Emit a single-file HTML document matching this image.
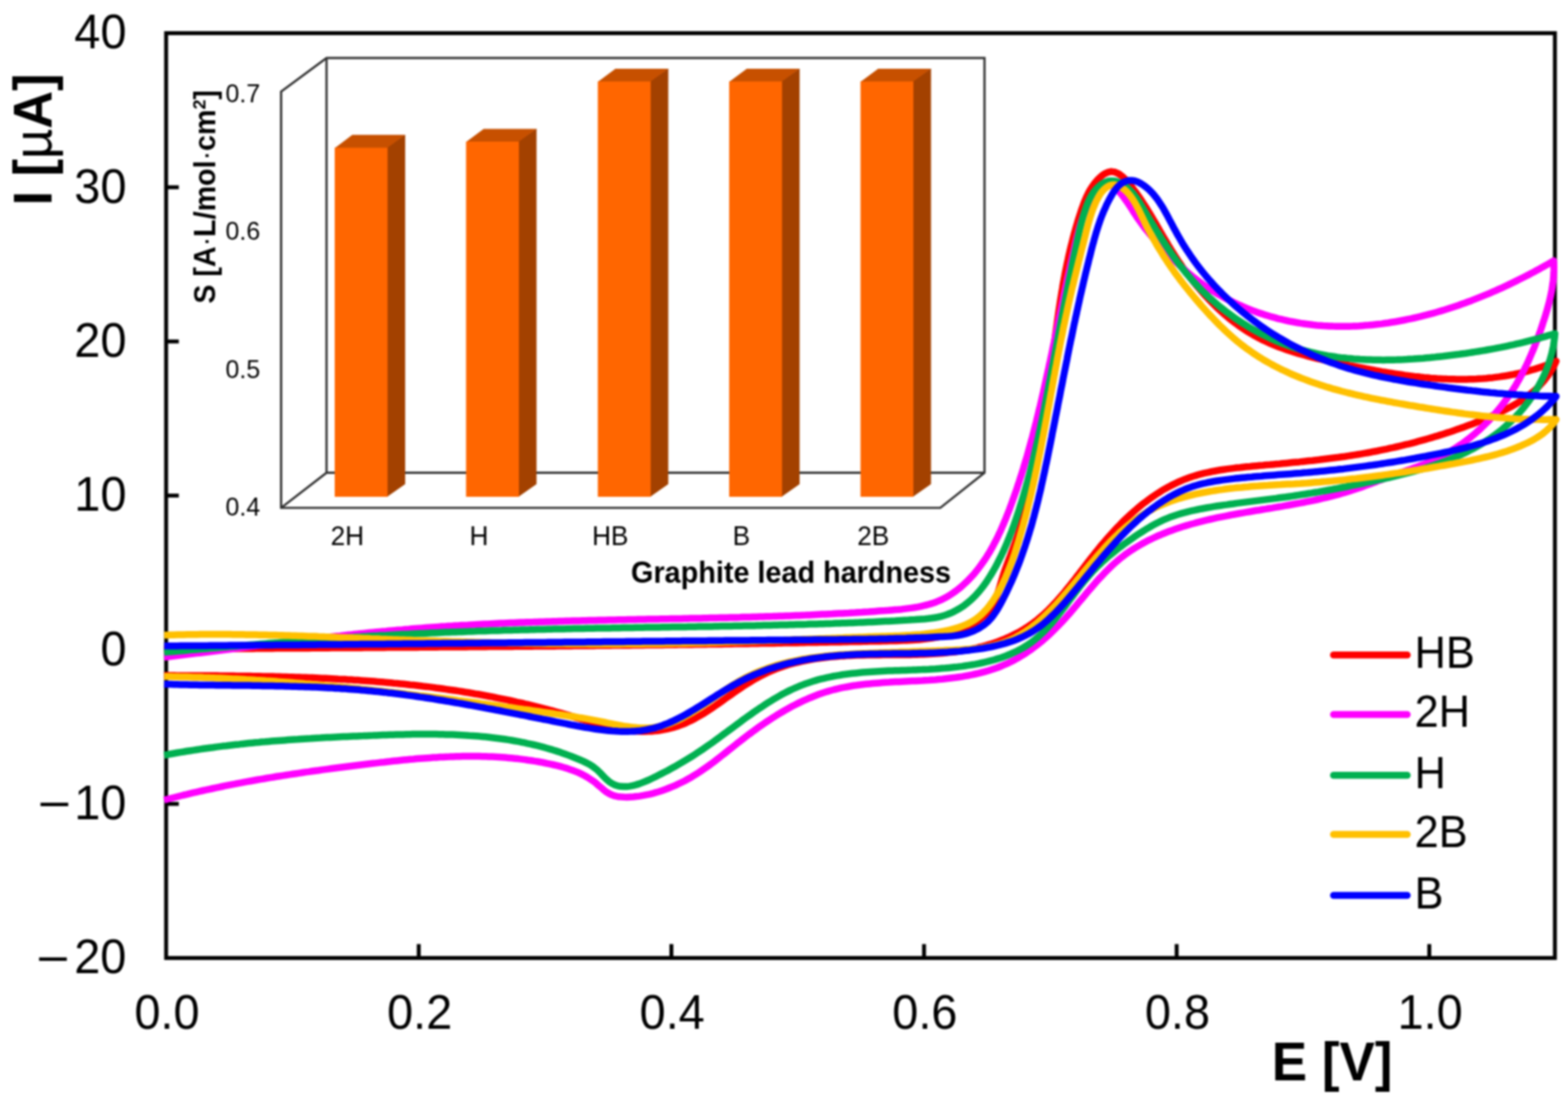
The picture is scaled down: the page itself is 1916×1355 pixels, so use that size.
<!DOCTYPE html>
<html lang="en"><head><meta charset="utf-8"><title>Cyclic voltammograms</title>
<style>
html,body{margin:0;padding:0;background:#fff;}
body{width:1916px;height:1355px;overflow:hidden;}
svg{display:block;filter:blur(0.8px);}/*BLUR*/
text{font-family:"Liberation Sans",Arial,Helvetica,sans-serif;fill:#000;}
</style></head><body>
<svg width="1916" height="1355" viewBox="0 0 1916 1355">
<rect x="0" y="0" width="1916" height="1355" fill="#fff"/>

<g stroke="#000" stroke-width="4.8" fill="none">
<rect x="203" y="40.5" width="1697" height="1130.0"/>
<line x1="203" y1="228.8" x2="218.5" y2="228.8"/>
<line x1="203" y1="417.2" x2="218.5" y2="417.2"/>
<line x1="203" y1="605.5" x2="218.5" y2="605.5"/>
<line x1="203" y1="793.8" x2="218.5" y2="793.8"/>
<line x1="203" y1="982.2" x2="218.5" y2="982.2"/>
<line x1="511.7" y1="1170.5" x2="511.7" y2="1153.5"/>
<line x1="820.4" y1="1170.5" x2="820.4" y2="1153.5"/>
<line x1="1129.1" y1="1170.5" x2="1129.1" y2="1153.5"/>
<line x1="1437.8" y1="1170.5" x2="1437.8" y2="1153.5"/>
<line x1="1746.5" y1="1170.5" x2="1746.5" y2="1153.5"/>
</g>
<text transform="translate(154.5 59.4) scale(1.0 1.04)" font-size="57.3" text-anchor="end">40</text>
<text transform="translate(154.5 247.7) scale(1.0 1.04)" font-size="57.3" text-anchor="end">30</text>
<text transform="translate(154.5 436.1) scale(1.0 1.04)" font-size="57.3" text-anchor="end">20</text>
<text transform="translate(154.5 624.4) scale(1.0 1.04)" font-size="57.3" text-anchor="end">10</text>
<text transform="translate(154.5 812.7) scale(1.0 1.04)" font-size="57.3" text-anchor="end">0</text>
<text transform="translate(0 1001.1) scale(1 1.04)" font-size="57.3"><tspan x="49.4" dy="-1.6" font-size="61">–</tspan><tspan x="154.5" dy="1.6" text-anchor="end">10</tspan></text>
<text transform="translate(0 1189.4) scale(1 1.04)" font-size="57.3"><tspan x="47.8" dy="-1.6" font-size="61">–</tspan><tspan x="154.5" dy="1.6" text-anchor="end">20</tspan></text>
<text transform="translate(204.0 1256.5) scale(1.0 1.04)" font-size="57.3" text-anchor="middle">0.0</text>
<text transform="translate(512.7 1256.5) scale(1.0 1.04)" font-size="57.3" text-anchor="middle">0.2</text>
<text transform="translate(821.4 1256.5) scale(1.0 1.04)" font-size="57.3" text-anchor="middle">0.4</text>
<text transform="translate(1130.1 1256.5) scale(1.0 1.04)" font-size="57.3" text-anchor="middle">0.6</text>
<text transform="translate(1438.8 1256.5) scale(1.0 1.04)" font-size="57.3" text-anchor="middle">0.8</text>
<text transform="translate(1747.5 1256.5) scale(1.0 1.04)" font-size="57.3" text-anchor="middle">1.0</text>
<text transform="translate(1554 1319.5) scale(1.012 1.04)" font-size="64" font-weight="bold">E [V]</text>
<text transform="translate(63 251) rotate(-90) scale(1.0 1.04)" font-size="64" font-weight="bold">I [<tspan font-weight="normal">µ</tspan>A]</text>
<g stroke="#303030" stroke-width="2.7" fill="none" stroke-linejoin="miter">
<path d="M343.5 620.5 L343.5 112 L399 70.8 L1203 70.8 L1203 577.6 L1149 620.5 Z"/>
<path d="M399 70.8 L399 577.6 L1203 577.6 M399 577.6 L343.5 620.5"/>
</g>
<path d="M473.0 180.4 L495.1 164.8 L495.1 591.4 L473.0 607 Z" fill="#a34100"/>
<path d="M409 181.0 L430.5 164.8 L495.1 164.8 L473.6 181.0 Z" fill="#c75000"/>
<path d="M473.6 180.4 L495.1 164.8 L495.1 166.0 L473.6 181.6 Z" fill="#a34100"/>
<path d="M409 180.4 L473.6 180.4 L473.6 607 L409 607 Z" fill="#ff6600"/>
<path d="M633.5 173 L655.6 157.4 L655.6 591.4 L633.5 607 Z" fill="#a34100"/>
<path d="M569.5 173.6 L591.0 157.4 L655.6 157.4 L634.1 173.6 Z" fill="#c75000"/>
<path d="M634.1 173 L655.6 157.4 L655.6 158.6 L634.1 174.2 Z" fill="#a34100"/>
<path d="M569.5 173 L634.1 173 L634.1 607 L569.5 607 Z" fill="#ff6600"/>
<path d="M794.5 99.5 L816.6 83.9 L816.6 591.4 L794.5 607 Z" fill="#a34100"/>
<path d="M730.5 100.1 L752.0 83.9 L816.6 83.9 L795.1 100.1 Z" fill="#c75000"/>
<path d="M795.1 99.5 L816.6 83.9 L816.6 85.10000000000001 L795.1 100.7 Z" fill="#a34100"/>
<path d="M730.5 99.5 L795.1 99.5 L795.1 607 L730.5 607 Z" fill="#ff6600"/>
<path d="M955.0 99.5 L977.1 83.9 L977.1 591.4 L955.0 607 Z" fill="#a34100"/>
<path d="M891 100.1 L912.5 83.9 L977.1 83.9 L955.6 100.1 Z" fill="#c75000"/>
<path d="M955.6 99.5 L977.1 83.9 L977.1 85.10000000000001 L955.6 100.7 Z" fill="#a34100"/>
<path d="M891 99.5 L955.6 99.5 L955.6 607 L891 607 Z" fill="#ff6600"/>
<path d="M1115.5 99.5 L1137.6 83.9 L1137.6 591.4 L1115.5 607 Z" fill="#a34100"/>
<path d="M1051.5 100.1 L1073.0 83.9 L1137.6 83.9 L1116.1 100.1 Z" fill="#c75000"/>
<path d="M1116.1 99.5 L1137.6 83.9 L1137.6 85.10000000000001 L1116.1 100.7 Z" fill="#a34100"/>
<path d="M1051.5 99.5 L1116.1 99.5 L1116.1 607 L1051.5 607 Z" fill="#ff6600"/>
<text transform="translate(275.5 124.5) scale(1.0 1.04)" font-size="30.5" fill="#111">0.7</text>
<text transform="translate(275.5 293) scale(1.0 1.04)" font-size="30.5" fill="#111">0.6</text>
<text transform="translate(275.5 461.5) scale(1.0 1.04)" font-size="30.5" fill="#111">0.5</text>
<text transform="translate(275.5 630) scale(1.0 1.04)" font-size="30.5" fill="#111">0.4</text>
<text transform="translate(424.5 666) scale(1.0 1.04)" font-size="32" text-anchor="middle" fill="#111">2H</text>
<text transform="translate(585.4 666) scale(1.0 1.04)" font-size="32" text-anchor="middle" fill="#111">H</text>
<text transform="translate(745.6 666) scale(1.0 1.04)" font-size="32" text-anchor="middle" fill="#111">HB</text>
<text transform="translate(906 666) scale(1.0 1.04)" font-size="32" text-anchor="middle" fill="#111">B</text>
<text transform="translate(1067 666) scale(1.0 1.04)" font-size="32" text-anchor="middle" fill="#111">2B</text>
<text transform="translate(771 711.5) scale(1.0 1.04)" font-size="35.2" font-weight="bold" fill="#111">Graphite lead hardness</text>
<text transform="translate(262.5 371) rotate(-90) scale(1.0 1.04)" font-size="35" font-weight="bold" fill="#111">S [A<tspan font-weight="normal">·</tspan>L/mol<tspan font-weight="normal">·</tspan>cm<tspan font-size="22" dy="-11">2</tspan><tspan dy="11">]</tspan></text>
<g fill="none" stroke-linejoin="round" stroke-linecap="butt" stroke-width="8.5">
<path d="M200.6 793.2L204.6 793.2L208.6 793.1L212.7 793.1L216.7 793.1L220.7 793.0L224.7 793.0L228.8 793.0L232.8 792.9L236.8 792.9L240.8 792.9L244.9 792.8L248.9 792.8L252.9 792.8L256.9 792.8L260.9 792.7L265.0 792.7L269.0 792.7L273.0 792.6L277.0 792.6L281.0 792.6L285.0 792.5L289.1 792.5L293.1 792.5L297.1 792.4L301.1 792.4L305.1 792.4L309.1 792.4L313.1 792.3L317.2 792.3L321.2 792.3L325.2 792.2L329.2 792.2L333.2 792.2L337.2 792.1L341.2 792.1L345.2 792.1L349.2 792.1L353.3 792.0L357.3 792.0L361.3 792.0L365.3 791.9L369.3 791.9L373.3 791.9L377.3 791.9L381.3 791.8L385.3 791.8L389.3 791.8L393.3 791.7L397.3 791.7L401.3 791.7L405.3 791.6L409.4 791.6L413.4 791.6L417.4 791.6L421.4 791.5L425.4 791.5L429.4 791.5L433.4 791.4L437.4 791.4L441.4 791.4L445.4 791.3L449.4 791.3L453.4 791.3L457.4 791.3L461.4 791.2L465.4 791.2L469.4 791.2L473.4 791.1L477.4 791.1L481.4 791.1L485.4 791.0L489.4 791.0L493.4 791.0L497.4 791.0L501.4 790.9L505.4 790.9L509.4 790.9L513.4 790.8L517.4 790.8L521.4 790.8L525.4 790.7L529.4 790.7L533.4 790.7L537.4 790.6L541.4 790.6L545.4 790.6L549.4 790.5L553.4 790.5L557.4 790.5L561.4 790.4L565.4 790.4L569.4 790.4L573.4 790.3L577.4 790.3L581.4 790.3L585.4 790.2L589.4 790.2L593.4 790.2L597.4 790.1L601.4 790.1L605.4 790.1L609.4 790.0L613.4 790.0L617.4 790.0L621.4 789.9L625.4 789.9L629.4 789.8L633.4 789.8L637.4 789.8L641.4 789.7L645.4 789.7L649.4 789.7L653.4 789.6L657.4 789.6L661.4 789.5L665.4 789.5L669.4 789.5L673.4 789.4L677.4 789.4L681.4 789.3L685.4 789.3L689.4 789.3L693.4 789.2L697.4 789.2L701.4 789.1L705.4 789.1L709.4 789.1L713.4 789.0L717.4 789.0L721.4 788.9L725.4 788.9L729.4 788.8L733.4 788.8L737.4 788.7L741.4 788.7L745.4 788.7L749.4 788.6L753.4 788.6L757.4 788.5L761.4 788.5L765.4 788.4L769.4 788.4L773.5 788.3L777.5 788.3L781.5 788.2L785.5 788.2L789.5 788.1L793.5 788.1L797.5 788.0L801.5 788.0L805.5 787.9L809.5 787.9L813.5 787.8L817.5 787.8L821.5 787.7L825.6 787.7L829.6 787.6L833.6 787.6L837.6 787.5L841.6 787.5L845.6 787.4L849.6 787.3L853.6 787.3L857.7 787.2L861.7 787.2L865.7 787.1L869.7 787.1L873.7 787.0L877.7 786.9L881.7 786.9L885.8 786.8L889.8 786.8L893.8 786.7L897.8 786.6L901.8 786.6L905.9 786.5L909.9 786.4L913.9 786.4L917.9 786.3L921.9 786.3L926.0 786.2L930.0 786.1L934.0 786.1L938.0 786.0L942.0 785.9L946.1 785.9L950.1 785.8L954.1 785.7L958.2 785.6L962.2 785.6L966.2 785.5L970.2 785.4L974.3 785.4L978.3 785.3L982.3 785.2L986.4 785.1L990.4 785.1L994.4 785.0L998.4 784.9L1002.5 784.8L1006.5 784.8L1010.5 784.7L1014.6 784.6L1018.6 784.5L1022.7 784.5L1026.7 784.4L1030.7 784.3L1034.8 784.2L1038.8 784.1L1042.8 784.0L1046.9 784.0L1050.9 783.9L1055.0 783.8L1059.0 783.7L1063.1 783.6L1067.1 783.5L1071.1 783.4L1075.2 783.4L1079.2 783.3L1083.3 783.2L1087.3 783.1L1091.4 783.0L1095.4 782.9L1099.5 782.8L1103.5 782.6L1107.5 782.5L1111.5 782.3L1115.5 782.0L1119.5 781.7L1123.5 781.4L1127.5 781.0L1131.4 780.6L1135.3 780.1L1139.3 779.5L1143.1 778.9L1147.0 778.2L1150.8 777.4L1154.6 776.5L1158.4 775.5L1162.1 774.4L1165.8 773.2L1169.5 771.9L1173.1 770.5L1176.7 768.9L1180.2 767.2L1183.7 765.4L1187.2 763.5L1190.6 761.4L1194.0 759.2L1197.2 756.8L1200.3 754.3L1203.3 751.6L1206.0 748.7L1208.6 745.6L1210.8 742.4L1212.9 739.0L1214.7 735.5L1216.4 731.9L1217.9 728.1L1219.3 724.3L1220.6 720.4L1221.8 716.5L1223.0 712.5L1224.2 708.5L1225.4 704.6L1226.6 700.7L1227.9 696.8L1229.3 693.0L1230.7 689.2L1232.1 685.4L1233.6 681.7L1235.0 678.0L1236.4 674.2L1237.8 670.5L1239.2 666.8L1240.6 663.0L1241.9 659.2L1243.2 655.5L1244.4 651.7L1245.7 647.9L1246.9 644.1L1248.1 640.3L1249.2 636.5L1250.3 632.7L1251.5 628.8L1252.5 625.0L1253.6 621.1L1254.7 617.3L1255.7 613.4L1256.7 609.6L1257.6 605.7L1258.6 601.8L1259.5 597.9L1260.4 594.0L1261.3 590.1L1262.2 586.2L1263.1 582.3L1263.9 578.4L1264.7 574.5L1265.5 570.6L1266.3 566.6L1267.1 562.7L1267.9 558.7L1268.6 554.8L1269.3 550.9L1270.0 546.9L1270.7 542.9L1271.4 539.0L1272.1 535.0L1272.8 531.1L1273.4 527.1L1274.1 523.1L1274.7 519.2L1275.3 515.2L1275.9 511.2L1276.5 507.2L1277.1 503.2L1277.7 499.3L1278.3 495.3L1278.8 491.3L1279.4 487.3L1279.9 483.3L1280.5 479.3L1281.0 475.3L1281.6 471.4L1282.1 467.4L1282.6 463.4L1283.2 459.4L1283.7 455.4L1284.2 451.4L1284.7 447.4L1285.3 443.5L1285.8 439.5L1286.3 435.5L1286.8 431.5L1287.3 427.5L1287.8 423.6L1288.4 419.6L1288.9 415.6L1289.4 411.7L1289.9 407.7L1290.5 403.7L1291.0 399.8L1291.6 395.8L1292.1 391.9L1292.7 387.9L1293.2 384.0L1293.8 380.0L1294.4 376.1L1295.0 372.1L1295.6 368.2L1296.2 364.3L1296.9 360.3L1297.5 356.4L1298.2 352.5L1298.8 348.5L1299.5 344.6L1300.3 340.7L1301.0 336.8L1301.7 332.8L1302.5 328.9L1303.3 325.0L1304.1 321.1L1305.0 317.2L1305.8 313.3L1306.7 309.4L1307.6 305.5L1308.5 301.6L1309.5 297.7L1310.5 293.8L1311.5 289.9L1312.5 286.0L1313.6 282.1L1314.7 278.2L1315.9 274.3L1317.0 270.4L1318.2 266.6L1319.5 262.7L1320.7 258.8L1322.0 254.9L1323.4 251.1L1324.8 247.2L1326.4 243.5L1328.0 239.8L1329.8 236.1L1331.7 232.6L1333.8 229.2L1336.1 225.8L1338.5 222.7L1341.2 219.6L1344.1 216.8L1347.3 214.1L1350.7 211.8L1354.2 210.3L1357.8 209.6L1361.5 210.1L1365.2 211.4L1368.7 213.5L1372.0 216.1L1375.1 219.0L1378.0 222.2L1380.7 225.5L1383.3 228.9L1385.8 232.2L1388.2 235.4L1390.5 238.7L1392.8 242.0L1395.0 245.2L1397.1 248.5L1399.3 251.8L1401.4 255.1L1403.4 258.5L1405.5 261.8L1407.5 265.2L1409.5 268.6L1411.5 272.0L1413.5 275.4L1415.5 278.8L1417.4 282.2L1419.4 285.7L1421.4 289.1L1423.4 292.5L1425.5 295.9L1427.5 299.4L1429.6 302.8L1431.7 306.2L1433.8 309.6L1436.0 313.0L1438.2 316.3L1440.4 319.7L1442.7 323.0L1445.0 326.4L1447.4 329.7L1449.7 332.9L1452.2 336.2L1454.6 339.4L1457.1 342.6L1459.6 345.8L1462.2 348.9L1464.8 352.0L1467.4 355.1L1470.1 358.2L1472.8 361.2L1475.6 364.1L1478.3 367.1L1481.2 370.0L1484.0 372.8L1486.9 375.6L1489.8 378.4L1492.8 381.1L1495.8 383.7L1498.8 386.3L1501.9 388.9L1505.0 391.4L1508.2 393.8L1511.4 396.2L1514.6 398.5L1517.9 400.8L1521.2 403.0L1524.5 405.1L1527.9 407.2L1531.3 409.2L1534.7 411.1L1538.2 413.0L1541.7 414.8L1545.3 416.5L1548.9 418.2L1552.5 419.8L1556.2 421.3L1559.8 422.8L1563.6 424.3L1567.3 425.6L1571.1 427.0L1574.8 428.3L1578.7 429.5L1582.5 430.7L1586.3 431.8L1590.2 432.9L1594.1 434.0L1598.0 435.1L1601.9 436.1L1605.8 437.1L1609.7 438.0L1613.7 438.9L1617.6 439.8L1621.6 440.7L1625.5 441.6L1629.5 442.5L1633.4 443.3L1637.4 444.1L1641.4 444.9L1645.3 445.8L1649.3 446.6L1653.2 447.4L1657.2 448.2L1661.1 448.9L1665.1 449.7L1669.0 450.5L1672.9 451.2L1676.9 451.9L1680.8 452.7L1684.8 453.4L1688.7 454.1L1692.6 454.7L1696.6 455.4L1700.5 456.0L1704.5 456.6L1708.4 457.2L1712.4 457.8L1716.3 458.4L1720.3 458.9L1724.2 459.4L1728.2 459.9L1732.2 460.3L1736.1 460.8L1740.1 461.2L1744.1 461.5L1748.1 461.9L1752.0 462.2L1756.0 462.5L1760.0 462.7L1764.0 462.9L1768.0 463.1L1772.1 463.2L1776.1 463.3L1780.1 463.4L1784.1 463.4L1788.1 463.4L1792.1 463.4L1796.1 463.3L1800.1 463.2L1804.1 463.0L1808.1 462.7L1812.1 462.5L1816.1 462.2L1820.1 461.8L1824.1 461.4L1828.0 460.9L1832.0 460.4L1836.0 459.8L1839.9 459.2L1843.9 458.5L1847.8 457.8L1851.7 457.0L1855.6 456.2L1859.5 455.3L1863.4 454.3L1867.3 453.3L1871.1 452.2L1875.0 451.1L1878.8 449.9L1882.7 448.6L1886.5 447.3L1890.2 445.9L1894.0 444.4L1897.8 442.9L1901.5 441.3L1899.8 445.1L1897.9 448.7L1895.9 452.2L1893.8 455.6L1891.6 458.9L1889.2 462.0L1886.8 465.1L1884.2 468.0L1881.5 470.9L1878.8 473.7L1875.9 476.3L1873.0 478.9L1869.9 481.4L1866.8 483.8L1863.6 486.1L1860.4 488.4L1857.1 490.6L1853.7 492.7L1850.2 494.7L1846.7 496.7L1843.2 498.6L1839.6 500.5L1836.0 502.3L1832.3 504.0L1828.6 505.7L1824.9 507.4L1821.2 509.0L1817.4 510.6L1813.6 512.2L1809.8 513.7L1806.0 515.2L1802.3 516.7L1798.5 518.2L1794.7 519.6L1790.9 521.0L1787.1 522.4L1783.2 523.7L1779.4 525.1L1775.6 526.4L1771.8 527.7L1768.0 528.9L1764.1 530.2L1760.3 531.4L1756.5 532.6L1752.6 533.7L1748.8 534.9L1745.0 536.0L1741.1 537.1L1737.2 538.2L1733.4 539.2L1729.5 540.3L1725.7 541.3L1721.8 542.3L1717.9 543.2L1714.0 544.2L1710.1 545.1L1706.3 546.0L1702.4 546.9L1698.5 547.7L1694.6 548.6L1690.7 549.4L1686.8 550.2L1682.9 551.0L1678.9 551.7L1675.0 552.5L1671.1 553.2L1667.2 553.9L1663.2 554.6L1659.3 555.2L1655.3 555.9L1651.4 556.5L1647.4 557.1L1643.5 557.7L1639.5 558.2L1635.6 558.8L1631.6 559.3L1627.6 559.8L1623.6 560.3L1619.7 560.8L1615.7 561.3L1611.7 561.8L1607.7 562.2L1603.7 562.7L1599.7 563.1L1595.7 563.5L1591.7 563.9L1587.7 564.4L1583.7 564.7L1579.7 565.1L1575.7 565.5L1571.6 565.9L1567.6 566.3L1563.6 566.7L1559.6 567.0L1555.5 567.4L1551.5 567.8L1547.5 568.1L1543.4 568.5L1539.4 568.8L1535.4 569.2L1531.3 569.6L1527.3 570.0L1523.2 570.3L1519.2 570.7L1515.2 571.2L1511.2 571.6L1507.1 572.1L1503.1 572.6L1499.1 573.1L1495.1 573.7L1491.2 574.3L1487.2 575.0L1483.3 575.7L1479.4 576.5L1475.5 577.3L1471.6 578.2L1467.7 579.2L1463.9 580.2L1460.1 581.3L1456.3 582.5L1452.6 583.8L1448.8 585.2L1445.2 586.7L1441.5 588.2L1437.9 589.9L1434.3 591.6L1430.7 593.4L1427.2 595.3L1423.7 597.2L1420.3 599.2L1416.9 601.3L1413.5 603.5L1410.2 605.7L1406.9 608.0L1403.6 610.4L1400.4 612.8L1397.2 615.2L1394.0 617.7L1390.9 620.3L1387.9 622.9L1384.8 625.5L1381.9 628.2L1378.9 630.9L1376.0 633.6L1373.1 636.4L1370.3 639.2L1367.5 642.1L1364.7 645.0L1362.0 647.9L1359.3 650.8L1356.6 653.8L1353.9 656.8L1351.3 659.8L1348.7 662.9L1346.1 665.9L1343.5 669.0L1341.0 672.2L1338.4 675.3L1335.9 678.5L1333.4 681.6L1330.9 684.8L1328.4 688.1L1325.9 691.3L1323.4 694.5L1320.9 697.8L1318.5 701.0L1316.0 704.2L1313.5 707.5L1311.0 710.7L1308.4 713.9L1305.9 717.1L1303.3 720.2L1300.8 723.4L1298.2 726.5L1295.5 729.6L1292.9 732.6L1290.2 735.6L1287.5 738.5L1284.7 741.4L1281.9 744.3L1279.0 747.0L1276.1 749.8L1273.2 752.4L1270.2 755.0L1267.2 757.5L1264.1 759.9L1260.9 762.3L1257.7 764.5L1254.4 766.7L1251.0 768.8L1247.6 770.8L1244.2 772.8L1240.7 774.6L1237.1 776.4L1233.5 778.1L1229.9 779.7L1226.2 781.3L1222.5 782.7L1218.8 784.1L1215.0 785.5L1211.2 786.7L1207.4 787.9L1203.5 789.0L1199.7 790.1L1195.8 791.0L1191.9 792.0L1188.0 792.8L1184.1 793.6L1180.1 794.3L1176.2 795.0L1172.2 795.6L1168.3 796.2L1164.3 796.7L1160.3 797.1L1156.3 797.6L1152.3 797.9L1148.3 798.3L1144.3 798.6L1140.3 798.8L1136.3 799.1L1132.3 799.3L1128.2 799.4L1124.2 799.6L1120.2 799.7L1116.1 799.8L1112.1 799.9L1108.0 799.9L1104.0 800.0L1099.9 800.0L1095.9 800.1L1091.8 800.1L1087.8 800.1L1083.7 800.1L1079.6 800.1L1075.6 800.2L1071.5 800.2L1067.5 800.2L1063.4 800.3L1059.4 800.3L1055.3 800.4L1051.2 800.5L1047.2 800.6L1043.2 800.8L1039.1 800.9L1035.1 801.1L1031.0 801.4L1027.0 801.6L1023.0 801.9L1019.0 802.2L1015.0 802.6L1011.0 803.0L1007.0 803.5L1003.0 804.0L999.0 804.5L995.0 805.1L991.1 805.8L987.1 806.5L983.2 807.3L979.3 808.1L975.4 809.0L971.6 809.9L967.7 811.0L963.9 812.0L960.1 813.2L956.4 814.4L952.6 815.7L948.9 817.1L945.3 818.6L941.6 820.1L938.0 821.7L934.5 823.4L930.9 825.2L927.4 827.0L923.9 828.9L920.5 830.9L917.0 833.0L913.6 835.1L910.2 837.2L906.8 839.4L903.5 841.7L900.1 844.0L896.8 846.3L893.4 848.7L890.1 851.0L886.7 853.4L883.4 855.8L880.0 858.2L876.7 860.5L873.3 862.9L869.9 865.2L866.5 867.4L863.1 869.7L859.7 871.8L856.2 873.9L852.7 875.9L849.2 877.9L845.6 879.8L842.0 881.5L838.4 883.2L834.7 884.7L831.0 886.1L827.3 887.5L823.5 888.6L819.6 889.7L815.8 890.6L811.9 891.4L808.0 892.1L804.1 892.7L800.2 893.1L796.3 893.4L792.4 893.6L788.5 893.7L784.6 893.7L780.6 893.5L776.7 893.3L772.8 892.9L768.9 892.5L765.0 892.0L761.1 891.4L757.2 890.7L753.3 889.9L749.4 889.1L745.5 888.3L741.6 887.3L737.6 886.4L733.7 885.3L729.8 884.3L725.9 883.2L722.0 882.1L718.1 880.9L714.2 879.8L710.3 878.6L706.3 877.4L702.4 876.3L698.5 875.1L694.6 873.9L690.7 872.8L686.7 871.7L682.8 870.6L678.9 869.5L675.0 868.4L671.0 867.4L667.1 866.3L663.2 865.3L659.3 864.3L655.3 863.3L651.4 862.3L647.5 861.4L643.5 860.5L639.6 859.5L635.7 858.6L631.7 857.8L627.8 856.9L623.8 856.0L619.9 855.2L616.0 854.4L612.0 853.6L608.1 852.8L604.1 852.0L600.2 851.2L596.2 850.5L592.3 849.8L588.3 849.0L584.4 848.3L580.4 847.7L576.5 847.0L572.5 846.3L568.6 845.7L564.6 845.0L560.6 844.4L556.7 843.8L552.7 843.2L548.8 842.7L544.8 842.1L540.8 841.5L536.9 841.0L532.9 840.5L528.9 839.9L525.0 839.4L521.0 838.9L517.0 838.5L513.1 838.0L509.1 837.5L505.1 837.1L501.1 836.7L497.2 836.2L493.2 835.8L489.2 835.4L485.2 835.0L481.2 834.7L477.3 834.3L473.3 833.9L469.3 833.6L465.3 833.2L461.3 832.9L457.4 832.6L453.4 832.3L449.4 832.0L445.4 831.7L441.4 831.4L437.4 831.1L433.4 830.9L429.4 830.6L425.4 830.4L421.5 830.1L417.5 829.9L413.5 829.7L409.5 829.4L405.5 829.2L401.5 829.0L397.5 828.8L393.5 828.7L389.5 828.5L385.5 828.3L381.5 828.1L377.5 828.0L373.5 827.8L369.5 827.7L365.5 827.5L361.5 827.4L357.4 827.3L353.4 827.2L349.4 827.0L345.4 826.9L341.4 826.8L337.4 826.7L333.4 826.6L329.4 826.5L325.4 826.5L321.3 826.4L317.3 826.3L313.3 826.2L309.3 826.2L305.3 826.1L301.3 826.0L297.2 826.0L293.2 825.9L289.2 825.9L285.2 825.8L281.2 825.8L277.1 825.7L273.1 825.7L269.1 825.7L265.1 825.6L261.0 825.6L257.0 825.6L253.0 825.5L249.0 825.5L244.9 825.5L240.9 825.5L236.9 825.4L232.9 825.4L228.8 825.4L224.8 825.4L220.8 825.4L216.7 825.4L212.7 825.3L208.7 825.3L204.6 825.3L200.6 825.3" stroke="#ff0000"/>
<path d="M200.6 803.0L204.6 802.5L208.5 802.0L212.5 801.6L216.5 801.1L220.4 800.6L224.4 800.1L228.4 799.6L232.4 799.1L236.3 798.6L240.3 798.1L244.3 797.7L248.2 797.2L252.2 796.7L256.2 796.2L260.2 795.7L264.2 795.2L268.1 794.7L272.1 794.2L276.1 793.7L280.1 793.2L284.1 792.7L288.0 792.2L292.0 791.7L296.0 791.2L300.0 790.7L304.0 790.2L308.0 789.7L311.9 789.2L315.9 788.7L319.9 788.2L323.9 787.7L327.9 787.2L331.9 786.7L335.9 786.2L339.9 785.7L343.9 785.2L347.8 784.8L351.8 784.3L355.8 783.8L359.8 783.3L363.8 782.8L367.8 782.4L371.8 781.9L375.8 781.4L379.8 780.9L383.8 780.5L387.8 780.0L391.8 779.6L395.8 779.1L399.8 778.6L403.8 778.2L407.8 777.7L411.8 777.3L415.8 776.9L419.7 776.4L423.7 776.0L427.7 775.6L431.7 775.1L435.7 774.7L439.7 774.3L443.7 773.9L447.7 773.5L451.7 773.1L455.7 772.7L459.7 772.3L463.7 771.9L467.7 771.5L471.7 771.2L475.7 770.8L479.7 770.4L483.7 770.1L487.7 769.7L491.7 769.4L495.7 769.0L499.7 768.7L503.7 768.3L507.7 768.0L511.7 767.7L515.7 767.4L519.7 767.1L523.7 766.8L527.7 766.5L531.7 766.2L535.7 765.9L539.7 765.6L543.7 765.4L547.7 765.1L551.7 764.9L555.7 764.6L559.7 764.4L563.7 764.1L567.7 763.9L571.7 763.7L575.7 763.4L579.7 763.2L583.7 763.0L587.7 762.8L591.7 762.6L595.7 762.4L599.7 762.2L603.7 762.0L607.7 761.8L611.7 761.6L615.7 761.5L619.7 761.3L623.7 761.1L627.7 761.0L631.7 760.8L635.7 760.6L639.7 760.5L643.7 760.3L647.7 760.2L651.7 760.1L655.7 759.9L659.7 759.8L663.7 759.7L667.7 759.5L671.7 759.4L675.7 759.3L679.7 759.2L683.7 759.0L687.7 758.9L691.7 758.8L695.7 758.7L699.7 758.6L703.7 758.5L707.7 758.4L711.7 758.3L715.7 758.2L719.7 758.1L723.7 758.0L727.7 757.9L731.7 757.8L735.7 757.7L739.7 757.7L743.7 757.6L747.7 757.5L751.7 757.4L755.7 757.3L759.7 757.2L763.7 757.2L767.7 757.1L771.8 757.0L775.8 756.9L779.8 756.8L783.8 756.8L787.8 756.7L791.8 756.6L795.8 756.5L799.8 756.5L803.8 756.4L807.8 756.3L811.8 756.2L815.8 756.2L819.8 756.1L823.9 756.0L827.9 755.9L831.9 755.9L835.9 755.8L839.9 755.7L843.9 755.6L847.9 755.5L851.9 755.5L855.9 755.4L860.0 755.3L864.0 755.2L868.0 755.1L872.0 755.0L876.0 754.9L880.0 754.8L884.0 754.7L888.1 754.7L892.1 754.6L896.1 754.5L900.1 754.4L904.1 754.3L908.2 754.1L912.2 754.0L916.2 753.9L920.2 753.8L924.2 753.7L928.3 753.6L932.3 753.5L936.3 753.3L940.3 753.2L944.3 753.1L948.4 752.9L952.4 752.8L956.4 752.7L960.4 752.5L964.5 752.4L968.5 752.2L972.5 752.0L976.5 751.9L980.6 751.7L984.6 751.6L988.6 751.4L992.7 751.2L996.7 751.0L1000.7 750.8L1004.8 750.6L1008.8 750.5L1012.8 750.3L1016.9 750.1L1020.9 749.8L1024.9 749.6L1029.0 749.4L1033.0 749.2L1037.0 749.0L1041.1 748.7L1045.1 748.5L1049.1 748.2L1053.2 748.0L1057.2 747.7L1061.3 747.5L1065.3 747.2L1069.3 746.9L1073.4 746.6L1077.4 746.3L1081.5 746.1L1085.5 745.8L1089.6 745.4L1093.6 745.1L1097.6 744.8L1101.7 744.4L1105.7 743.9L1109.7 743.4L1113.6 742.9L1117.6 742.3L1121.5 741.6L1125.3 740.8L1129.2 739.9L1133.0 739.0L1136.8 737.9L1140.5 736.7L1144.1 735.4L1147.7 733.9L1151.3 732.3L1154.8 730.5L1158.2 728.6L1161.6 726.5L1164.9 724.3L1168.1 722.0L1171.2 719.6L1174.3 717.1L1177.3 714.4L1180.2 711.7L1183.0 708.9L1185.8 706.1L1188.5 703.2L1191.1 700.2L1193.6 697.1L1196.0 694.0L1198.4 690.8L1200.7 687.6L1203.0 684.3L1205.2 681.0L1207.3 677.6L1209.4 674.2L1211.4 670.7L1213.3 667.2L1215.2 663.6L1217.1 660.0L1218.9 656.4L1220.6 652.7L1222.4 649.1L1224.0 645.3L1225.7 641.6L1227.2 637.9L1228.8 634.1L1230.3 630.3L1231.8 626.5L1233.3 622.7L1234.7 618.9L1236.1 615.1L1237.5 611.3L1238.9 607.4L1240.2 603.6L1241.6 599.8L1242.9 596.0L1244.1 592.1L1245.4 588.3L1246.6 584.5L1247.9 580.7L1249.1 576.8L1250.3 573.0L1251.4 569.2L1252.6 565.3L1253.7 561.5L1254.9 557.7L1256.0 553.8L1257.0 550.0L1258.1 546.1L1259.2 542.3L1260.2 538.4L1261.3 534.6L1262.3 530.7L1263.3 526.9L1264.3 523.0L1265.3 519.2L1266.3 515.3L1267.2 511.4L1268.2 507.6L1269.1 503.7L1270.0 499.8L1271.0 496.0L1271.9 492.1L1272.8 488.2L1273.7 484.3L1274.6 480.4L1275.5 476.5L1276.3 472.6L1277.2 468.7L1278.1 464.8L1278.9 460.9L1279.8 457.0L1280.6 453.1L1281.5 449.2L1282.3 445.3L1283.2 441.4L1284.0 437.5L1284.9 433.5L1285.7 429.6L1286.5 425.7L1287.3 421.7L1288.2 417.8L1289.0 413.9L1289.8 409.9L1290.6 406.0L1291.5 402.1L1292.3 398.1L1293.1 394.2L1293.9 390.2L1294.7 386.3L1295.6 382.3L1296.4 378.4L1297.2 374.5L1298.0 370.5L1298.9 366.6L1299.7 362.6L1300.5 358.7L1301.4 354.8L1302.2 350.8L1303.1 346.9L1303.9 342.9L1304.8 339.0L1305.6 335.1L1306.5 331.1L1307.4 327.2L1308.2 323.3L1309.1 319.4L1310.0 315.4L1310.9 311.5L1311.8 307.6L1312.7 303.7L1313.6 299.8L1314.5 295.9L1315.4 292.0L1316.4 288.1L1317.4 284.2L1318.4 280.3L1319.5 276.5L1320.6 272.7L1321.9 268.9L1323.2 265.1L1324.7 261.4L1326.3 257.7L1328.1 254.1L1330.0 250.5L1332.0 247.0L1334.3 243.5L1336.8 240.1L1339.5 236.8L1342.4 233.5L1345.4 230.6L1348.7 228.2L1352.0 226.7L1355.3 226.3L1358.6 227.1L1361.8 228.9L1365.0 231.5L1368.0 234.7L1370.9 238.1L1373.6 241.7L1376.1 245.2L1378.5 248.7L1380.8 252.1L1383.0 255.5L1385.1 258.9L1387.3 262.3L1389.5 265.6L1391.8 268.9L1394.1 272.1L1396.4 275.3L1398.8 278.5L1401.3 281.6L1403.8 284.7L1406.4 287.7L1409.0 290.8L1411.6 293.8L1414.3 296.7L1417.0 299.7L1419.8 302.6L1422.5 305.5L1425.3 308.4L1428.1 311.3L1430.9 314.1L1433.8 316.9L1436.7 319.7L1439.6 322.5L1442.5 325.2L1445.5 327.9L1448.5 330.5L1451.5 333.1L1454.6 335.7L1457.7 338.3L1460.8 340.7L1464.0 343.2L1467.2 345.6L1470.5 347.9L1473.8 350.2L1477.1 352.4L1480.5 354.6L1483.9 356.7L1487.4 358.8L1490.9 360.8L1494.4 362.8L1497.9 364.7L1501.5 366.6L1505.1 368.4L1508.7 370.2L1512.4 371.9L1516.1 373.5L1519.8 375.1L1523.5 376.7L1527.3 378.2L1531.0 379.6L1534.8 381.0L1538.6 382.4L1542.5 383.6L1546.3 384.9L1550.2 386.0L1554.0 387.2L1557.9 388.2L1561.8 389.3L1565.7 390.2L1569.6 391.1L1573.5 392.0L1577.4 392.8L1581.4 393.5L1585.3 394.2L1589.2 394.9L1593.2 395.5L1597.1 396.0L1601.1 396.5L1605.0 397.0L1609.0 397.4L1612.9 397.7L1616.9 398.0L1620.9 398.2L1624.8 398.4L1628.8 398.6L1632.8 398.7L1636.8 398.8L1640.7 398.8L1644.7 398.7L1648.7 398.7L1652.7 398.6L1656.7 398.4L1660.6 398.2L1664.6 397.9L1668.6 397.6L1672.6 397.3L1676.6 396.9L1680.5 396.5L1684.5 396.1L1688.5 395.6L1692.4 395.0L1696.4 394.5L1700.4 393.8L1704.3 393.2L1708.3 392.5L1712.2 391.8L1716.2 391.0L1720.1 390.2L1724.1 389.4L1728.0 388.5L1731.9 387.6L1735.9 386.7L1739.8 385.7L1743.7 384.7L1747.6 383.6L1751.5 382.6L1755.4 381.5L1759.3 380.3L1763.2 379.2L1767.0 378.0L1770.9 376.7L1774.7 375.5L1778.6 374.2L1782.4 372.9L1786.2 371.5L1790.0 370.2L1793.8 368.8L1797.6 367.4L1801.4 365.9L1805.2 364.4L1809.0 362.9L1812.7 361.4L1816.4 359.9L1820.2 358.3L1823.9 356.7L1827.6 355.1L1831.3 353.4L1834.9 351.8L1838.6 350.1L1842.3 348.4L1845.9 346.6L1849.5 344.9L1853.1 343.1L1856.7 341.3L1860.3 339.5L1863.8 337.7L1867.4 335.9L1870.9 334.0L1874.4 332.2L1877.9 330.3L1881.4 328.4L1884.8 326.4L1888.3 324.5L1891.7 322.6L1895.1 320.6L1898.5 318.6L1898.7 322.7L1898.8 326.7L1898.7 330.7L1898.5 334.8L1898.3 338.7L1897.9 342.7L1897.4 346.7L1896.8 350.6L1896.2 354.5L1895.4 358.5L1894.6 362.3L1893.7 366.2L1892.8 370.1L1891.7 374.0L1890.7 377.8L1889.5 381.7L1888.4 385.5L1887.2 389.3L1885.9 393.1L1884.7 397.0L1883.4 400.8L1882.1 404.6L1880.7 408.4L1879.4 412.1L1878.0 415.9L1876.5 419.7L1875.1 423.4L1873.6 427.2L1872.0 430.9L1870.4 434.6L1868.8 438.3L1867.2 441.9L1865.5 445.6L1863.7 449.2L1861.9 452.8L1860.1 456.4L1858.2 459.9L1856.3 463.4L1854.3 466.9L1852.3 470.4L1850.2 473.8L1848.1 477.2L1845.9 480.5L1843.6 483.9L1841.3 487.2L1838.9 490.4L1836.5 493.6L1834.0 496.8L1831.5 499.9L1828.9 503.0L1826.3 506.0L1823.7 509.0L1820.9 512.0L1818.2 514.9L1815.3 517.7L1812.5 520.5L1809.6 523.3L1806.6 526.0L1803.6 528.7L1800.6 531.2L1797.5 533.8L1794.3 536.3L1791.2 538.7L1787.9 541.1L1784.7 543.4L1781.4 545.6L1778.0 547.8L1774.7 549.9L1771.3 552.0L1767.8 554.0L1764.3 555.9L1760.8 557.8L1757.2 559.6L1753.6 561.3L1750.0 562.9L1746.4 564.5L1742.7 566.1L1739.0 567.6L1735.2 569.0L1731.5 570.4L1727.7 571.8L1723.9 573.2L1720.1 574.5L1716.3 575.9L1712.5 577.2L1708.7 578.6L1704.8 579.9L1701.0 581.3L1697.2 582.7L1693.4 584.1L1689.6 585.5L1685.7 586.9L1681.9 588.4L1678.1 589.8L1674.3 591.2L1670.5 592.6L1666.7 594.0L1662.9 595.4L1659.0 596.7L1655.2 598.0L1651.4 599.2L1647.6 600.5L1643.8 601.6L1639.9 602.7L1636.1 603.8L1632.3 604.9L1628.5 605.9L1624.6 606.9L1620.8 607.8L1616.9 608.7L1613.1 609.6L1609.2 610.5L1605.4 611.3L1601.5 612.1L1597.6 612.9L1593.8 613.7L1589.9 614.4L1586.0 615.1L1582.1 615.8L1578.2 616.5L1574.3 617.2L1570.4 617.9L1566.5 618.6L1562.6 619.2L1558.6 619.9L1554.7 620.6L1550.7 621.2L1546.8 621.9L1542.8 622.5L1538.8 623.2L1534.8 623.8L1530.8 624.5L1526.8 625.2L1522.8 625.9L1518.8 626.6L1514.8 627.3L1510.8 628.0L1506.8 628.7L1502.8 629.5L1498.7 630.3L1494.7 631.1L1490.7 631.9L1486.7 632.7L1482.7 633.6L1478.7 634.5L1474.8 635.4L1470.8 636.4L1466.9 637.4L1462.9 638.4L1459.0 639.5L1455.1 640.5L1451.2 641.7L1447.3 642.8L1443.5 644.0L1439.7 645.3L1435.9 646.6L1432.1 647.9L1428.3 649.3L1424.6 650.7L1420.9 652.2L1417.3 653.8L1413.6 655.3L1410.0 657.0L1406.5 658.7L1402.9 660.4L1399.5 662.3L1396.0 664.1L1392.6 666.1L1389.2 668.1L1385.9 670.1L1382.6 672.3L1379.3 674.5L1376.1 676.7L1373.0 679.1L1369.9 681.5L1366.8 684.0L1363.8 686.6L1360.9 689.2L1358.0 691.9L1355.1 694.7L1352.3 697.5L1349.5 700.3L1346.7 703.3L1343.9 706.2L1341.2 709.2L1338.5 712.2L1335.9 715.3L1333.2 718.4L1330.5 721.5L1327.9 724.6L1325.3 727.7L1322.7 730.9L1320.0 734.0L1317.4 737.1L1314.8 740.3L1312.1 743.4L1309.5 746.5L1306.8 749.6L1304.1 752.6L1301.4 755.7L1298.7 758.7L1295.9 761.6L1293.1 764.5L1290.3 767.4L1287.4 770.3L1284.6 773.0L1281.6 775.8L1278.7 778.5L1275.7 781.1L1272.7 783.7L1269.6 786.2L1266.5 788.6L1263.4 791.0L1260.2 793.4L1257.0 795.6L1253.8 797.8L1250.5 799.9L1247.1 802.0L1243.7 804.0L1240.3 805.9L1236.9 807.7L1233.3 809.5L1229.8 811.2L1226.2 812.7L1222.5 814.2L1218.8 815.7L1215.1 817.0L1211.3 818.3L1207.5 819.5L1203.6 820.6L1199.7 821.6L1195.8 822.6L1191.9 823.5L1187.9 824.4L1183.9 825.2L1179.9 825.9L1175.9 826.6L1171.8 827.2L1167.8 827.8L1163.7 828.3L1159.6 828.8L1155.5 829.3L1151.5 829.7L1147.4 830.0L1143.3 830.4L1139.2 830.7L1135.1 831.0L1131.0 831.2L1127.0 831.5L1122.9 831.7L1118.8 831.9L1114.7 832.1L1110.7 832.3L1106.6 832.5L1102.6 832.7L1098.5 832.9L1094.5 833.1L1090.4 833.3L1086.4 833.6L1082.4 833.8L1078.3 834.1L1074.3 834.4L1070.3 834.7L1066.3 835.0L1062.4 835.4L1058.4 835.8L1054.4 836.2L1050.5 836.7L1046.6 837.3L1042.7 837.8L1038.8 838.5L1034.9 839.2L1031.0 839.9L1027.1 840.7L1023.3 841.6L1019.5 842.5L1015.7 843.5L1011.9 844.6L1008.1 845.8L1004.3 847.0L1000.6 848.3L996.9 849.7L993.2 851.2L989.5 852.7L985.8 854.3L982.2 855.9L978.6 857.6L975.0 859.4L971.4 861.2L967.8 863.1L964.3 865.0L960.8 866.9L957.3 869.0L953.8 871.0L950.3 873.1L946.9 875.3L943.4 877.4L940.0 879.7L936.7 881.9L933.3 884.2L930.0 886.5L926.7 888.8L923.4 891.2L920.1 893.6L916.9 896.0L913.6 898.4L910.4 900.8L907.2 903.3L904.1 905.8L900.9 908.2L897.8 910.7L894.7 913.2L891.6 915.6L888.5 918.1L885.4 920.6L882.3 923.0L879.2 925.5L876.1 927.9L873.0 930.3L869.9 932.6L866.7 935.0L863.5 937.3L860.2 939.6L857.0 941.8L853.7 944.0L850.3 946.1L846.9 948.2L843.5 950.3L839.9 952.3L836.4 954.2L832.7 956.0L829.0 957.8L825.3 959.6L821.5 961.2L817.6 962.8L813.8 964.3L809.8 965.7L805.9 967.0L801.9 968.2L797.9 969.3L793.9 970.3L789.9 971.1L785.9 971.9L781.9 972.6L777.9 973.1L774.0 973.5L770.0 973.7L766.1 973.9L762.2 973.8L758.3 973.6L754.6 973.2L750.9 972.4L747.3 971.1L743.9 969.4L740.6 967.3L737.4 964.8L734.3 962.1L731.1 959.4L728.0 956.7L724.7 954.2L721.3 951.9L717.9 949.7L714.4 947.7L710.8 945.9L707.2 944.2L703.5 942.6L699.8 941.2L696.0 939.9L692.2 938.6L688.4 937.5L684.5 936.4L680.6 935.4L676.7 934.5L672.8 933.6L668.9 932.8L664.9 932.0L661.0 931.2L657.1 930.5L653.1 929.9L649.2 929.2L645.2 928.7L641.3 928.1L637.3 927.6L633.4 927.1L629.4 926.7L625.4 926.3L621.4 925.9L617.5 925.6L613.5 925.3L609.5 925.0L605.5 924.8L601.5 924.6L597.5 924.4L593.5 924.3L589.5 924.2L585.5 924.1L581.5 924.1L577.5 924.0L573.5 924.0L569.5 924.1L565.5 924.1L561.5 924.2L557.5 924.3L553.4 924.4L549.4 924.6L545.4 924.7L541.4 924.9L537.4 925.1L533.3 925.4L529.3 925.6L525.3 925.9L521.3 926.2L517.3 926.5L513.2 926.8L509.2 927.1L505.2 927.5L501.2 927.8L497.2 928.2L493.1 928.6L489.1 929.0L485.1 929.4L481.1 929.8L477.1 930.3L473.1 930.7L469.1 931.2L465.0 931.6L461.0 932.1L457.0 932.6L453.0 933.0L449.0 933.5L445.0 934.0L441.0 934.5L437.1 935.0L433.1 935.5L429.1 936.0L425.1 936.5L421.1 937.0L417.1 937.5L413.2 938.0L409.2 938.5L405.2 939.0L401.2 939.6L397.3 940.1L393.3 940.6L389.4 941.2L385.4 941.7L381.4 942.3L377.5 942.9L373.5 943.4L369.6 944.0L365.6 944.6L361.7 945.2L357.7 945.8L353.8 946.4L349.8 947.0L345.9 947.6L342.0 948.2L338.0 948.8L334.1 949.5L330.1 950.1L326.2 950.8L322.3 951.5L318.3 952.1L314.4 952.8L310.5 953.5L306.5 954.2L302.6 954.9L298.7 955.6L294.8 956.4L290.8 957.1L286.9 957.9L283.0 958.6L279.1 959.4L275.1 960.2L271.2 961.0L267.3 961.8L263.4 962.6L259.4 963.5L255.5 964.3L251.6 965.2L247.7 966.0L243.8 966.9L239.8 967.8L235.9 968.7L232.0 969.6L228.1 970.6L224.1 971.5L220.2 972.5L216.3 973.5L212.4 974.5L208.4 975.5L204.5 976.5L200.6 977.5" stroke="#ff00ff"/>
<path d="M200.6 797.0L204.6 796.6L208.6 796.3L212.6 795.9L216.6 795.6L220.6 795.2L224.6 794.9L228.6 794.5L232.6 794.1L236.6 793.8L240.5 793.4L244.5 793.1L248.5 792.8L252.5 792.4L256.5 792.1L260.5 791.7L264.5 791.4L268.5 791.0L272.5 790.7L276.5 790.4L280.5 790.0L284.5 789.7L288.5 789.4L292.5 789.0L296.5 788.7L300.5 788.4L304.5 788.0L308.5 787.7L312.5 787.4L316.5 787.1L320.5 786.7L324.5 786.4L328.5 786.1L332.5 785.8L336.5 785.5L340.5 785.2L344.5 784.8L348.5 784.5L352.5 784.2L356.5 783.9L360.5 783.6L364.5 783.3L368.5 783.0L372.5 782.7L376.5 782.4L380.5 782.1L384.5 781.9L388.5 781.6L392.5 781.3L396.5 781.0L400.5 780.7L404.5 780.4L408.5 780.2L412.5 779.9L416.5 779.6L420.5 779.4L424.5 779.1L428.5 778.8L432.5 778.6L436.5 778.3L440.5 778.1L444.5 777.8L448.5 777.6L452.5 777.3L456.5 777.1L460.5 776.9L464.5 776.6L468.5 776.4L472.5 776.2L476.5 775.9L480.5 775.7L484.5 775.5L488.5 775.3L492.5 775.1L496.5 774.9L500.5 774.7L504.5 774.5L508.5 774.3L512.5 774.1L516.5 773.9L520.6 773.7L524.6 773.5L528.6 773.3L532.6 773.2L536.6 773.0L540.6 772.8L544.6 772.6L548.6 772.5L552.6 772.3L556.6 772.2L560.6 772.0L564.6 771.9L568.6 771.7L572.6 771.6L576.7 771.4L580.7 771.3L584.7 771.1L588.7 771.0L592.7 770.9L596.7 770.7L600.7 770.6L604.7 770.5L608.7 770.4L612.7 770.3L616.8 770.1L620.8 770.0L624.8 769.9L628.8 769.8L632.8 769.7L636.8 769.6L640.8 769.5L644.8 769.4L648.8 769.3L652.8 769.2L656.9 769.1L660.9 769.0L664.9 768.9L668.9 768.8L672.9 768.7L676.9 768.6L680.9 768.6L684.9 768.5L688.9 768.4L693.0 768.3L697.0 768.2L701.0 768.1L705.0 768.1L709.0 768.0L713.0 767.9L717.0 767.8L721.0 767.8L725.0 767.7L729.1 767.6L733.1 767.6L737.1 767.5L741.1 767.4L745.1 767.4L749.1 767.3L753.1 767.2L757.1 767.2L761.1 767.1L765.2 767.0L769.2 767.0L773.2 766.9L777.2 766.8L781.2 766.8L785.2 766.7L789.2 766.6L793.2 766.6L797.2 766.5L801.3 766.5L805.3 766.4L809.3 766.3L813.3 766.3L817.3 766.2L821.3 766.1L825.3 766.1L829.3 766.0L833.3 766.0L837.4 765.9L841.4 765.8L845.4 765.8L849.4 765.7L853.4 765.6L857.4 765.6L861.4 765.5L865.4 765.4L869.4 765.4L873.4 765.3L877.4 765.2L881.5 765.1L885.5 765.1L889.5 765.0L893.5 764.9L897.5 764.8L901.5 764.8L905.5 764.7L909.5 764.6L913.5 764.5L917.5 764.4L921.5 764.4L925.5 764.3L929.5 764.2L933.6 764.1L937.6 764.0L941.6 763.9L945.6 763.8L949.6 763.7L953.6 763.6L957.6 763.5L961.6 763.4L965.6 763.3L969.6 763.2L973.6 763.1L977.6 763.0L981.6 762.9L985.6 762.8L989.6 762.6L993.6 762.5L997.6 762.4L1001.6 762.3L1005.6 762.2L1009.6 762.0L1013.6 761.9L1017.6 761.8L1021.7 761.6L1025.7 761.5L1029.7 761.3L1033.7 761.2L1037.7 761.0L1041.7 760.9L1045.7 760.7L1049.7 760.6L1053.7 760.4L1057.7 760.2L1061.7 760.0L1065.7 759.9L1069.8 759.7L1073.8 759.5L1077.8 759.3L1081.8 759.1L1085.8 758.9L1089.9 758.7L1093.9 758.5L1097.9 758.2L1101.9 758.0L1106.0 757.8L1110.0 757.6L1114.0 757.3L1118.1 757.1L1122.1 756.8L1126.2 756.5L1130.2 756.2L1134.2 755.8L1138.2 755.3L1142.1 754.7L1146.1 754.0L1149.9 753.1L1153.8 752.0L1157.5 750.8L1161.2 749.3L1164.9 747.6L1168.4 745.8L1171.9 743.8L1175.3 741.7L1178.6 739.4L1181.8 736.9L1184.9 734.3L1187.9 731.6L1190.8 728.8L1193.5 725.9L1196.2 722.9L1198.7 719.8L1201.2 716.7L1203.5 713.5L1205.8 710.2L1208.0 706.8L1210.1 703.5L1212.2 700.0L1214.2 696.6L1216.2 693.1L1218.1 689.6L1219.9 686.0L1221.7 682.4L1223.5 678.8L1225.2 675.2L1226.9 671.6L1228.5 667.9L1230.1 664.2L1231.6 660.5L1233.2 656.8L1234.6 653.0L1236.1 649.3L1237.5 645.5L1238.9 641.7L1240.2 637.9L1241.5 634.1L1242.8 630.3L1244.1 626.5L1245.3 622.7L1246.5 618.8L1247.7 615.0L1248.9 611.2L1250.1 607.3L1251.2 603.5L1252.3 599.7L1253.4 595.8L1254.5 592.0L1255.6 588.1L1256.6 584.2L1257.7 580.4L1258.7 576.5L1259.7 572.6L1260.7 568.8L1261.6 564.9L1262.6 561.0L1263.5 557.1L1264.4 553.2L1265.3 549.3L1266.2 545.4L1267.1 541.5L1268.0 537.6L1268.9 533.7L1269.7 529.8L1270.6 525.9L1271.4 522.0L1272.2 518.1L1273.1 514.2L1273.9 510.3L1274.7 506.3L1275.5 502.4L1276.3 498.5L1277.0 494.6L1277.8 490.6L1278.6 486.7L1279.4 482.7L1280.1 478.8L1280.9 474.9L1281.7 470.9L1282.4 467.0L1283.2 463.0L1283.9 459.1L1284.7 455.1L1285.4 451.2L1286.2 447.2L1287.0 443.3L1287.7 439.3L1288.5 435.4L1289.2 431.4L1290.0 427.4L1290.7 423.5L1291.5 419.5L1292.2 415.6L1293.0 411.6L1293.7 407.7L1294.5 403.7L1295.3 399.7L1296.0 395.8L1296.8 391.8L1297.5 387.9L1298.3 383.9L1299.1 380.0L1299.8 376.0L1300.6 372.1L1301.4 368.2L1302.1 364.2L1302.9 360.3L1303.7 356.3L1304.5 352.4L1305.2 348.5L1306.0 344.6L1306.8 340.6L1307.6 336.7L1308.4 332.8L1309.2 328.9L1309.9 325.0L1310.7 321.1L1311.5 317.2L1312.3 313.3L1313.1 309.5L1313.9 305.6L1314.8 301.7L1315.6 297.8L1316.4 294.0L1317.2 290.1L1318.1 286.3L1318.9 282.4L1319.8 278.6L1320.8 274.7L1321.8 270.8L1322.9 266.8L1324.0 262.9L1325.3 258.9L1326.6 254.9L1328.0 250.9L1329.7 246.9L1331.5 243.1L1333.5 239.3L1335.7 235.8L1338.2 232.4L1341.0 229.4L1344.1 226.6L1347.4 224.3L1350.8 222.5L1354.4 221.3L1358.1 220.9L1361.8 221.2L1365.5 222.2L1369.2 223.8L1372.8 225.9L1376.2 228.3L1379.3 231.0L1382.3 234.0L1385.0 237.1L1387.5 240.3L1389.8 243.6L1392.1 247.0L1394.2 250.5L1396.3 253.9L1398.4 257.4L1400.5 260.9L1402.6 264.4L1404.7 267.9L1406.8 271.4L1408.9 274.8L1411.0 278.3L1413.2 281.7L1415.3 285.1L1417.4 288.5L1419.6 292.0L1421.8 295.3L1423.9 298.7L1426.2 302.1L1428.4 305.4L1430.7 308.7L1432.9 312.0L1435.3 315.2L1437.6 318.5L1440.0 321.7L1442.4 324.9L1444.9 328.0L1447.4 331.2L1449.9 334.3L1452.5 337.3L1455.1 340.3L1457.8 343.3L1460.5 346.3L1463.2 349.2L1466.0 352.1L1468.8 355.0L1471.7 357.8L1474.6 360.6L1477.5 363.3L1480.5 366.0L1483.5 368.7L1486.5 371.3L1489.6 373.9L1492.7 376.4L1495.9 378.9L1499.1 381.3L1502.3 383.7L1505.5 386.1L1508.8 388.4L1512.1 390.7L1515.4 392.9L1518.8 395.1L1522.2 397.2L1525.6 399.3L1529.0 401.3L1532.5 403.3L1536.0 405.2L1539.5 407.1L1543.1 408.9L1546.7 410.7L1550.3 412.4L1553.9 414.1L1557.5 415.7L1561.2 417.2L1564.9 418.7L1568.6 420.2L1572.3 421.5L1576.1 422.9L1579.8 424.1L1583.6 425.4L1587.4 426.5L1591.2 427.6L1595.1 428.7L1598.9 429.6L1602.8 430.6L1606.6 431.5L1610.5 432.3L1614.4 433.1L1618.4 433.9L1622.3 434.6L1626.2 435.2L1630.2 435.8L1634.1 436.4L1638.1 436.9L1642.1 437.3L1646.1 437.8L1650.1 438.1L1654.1 438.5L1658.1 438.8L1662.1 439.1L1666.2 439.3L1670.2 439.5L1674.2 439.6L1678.3 439.7L1682.3 439.8L1686.4 439.8L1690.4 439.9L1694.5 439.8L1698.6 439.8L1702.6 439.7L1706.7 439.6L1710.7 439.4L1714.8 439.3L1718.8 439.1L1722.9 438.8L1727.0 438.6L1731.0 438.3L1735.1 438.0L1739.1 437.7L1743.1 437.3L1747.2 436.9L1751.2 436.6L1755.2 436.1L1759.2 435.7L1763.3 435.3L1767.3 434.8L1771.3 434.3L1775.2 433.8L1779.2 433.3L1783.2 432.8L1787.1 432.2L1791.1 431.7L1795.0 431.1L1798.9 430.5L1802.9 429.9L1806.8 429.3L1810.7 428.6L1814.6 428.0L1818.5 427.3L1822.3 426.6L1826.2 425.9L1830.1 425.1L1834.0 424.4L1837.9 423.6L1841.7 422.8L1845.6 421.9L1849.5 421.1L1853.3 420.2L1857.2 419.3L1861.1 418.4L1865.0 417.4L1868.8 416.4L1872.7 415.4L1876.6 414.4L1880.5 413.3L1884.4 412.2L1888.3 411.1L1892.2 409.9L1896.1 408.7L1900.0 407.5L1899.7 411.5L1899.2 415.4L1898.7 419.3L1898.0 423.3L1897.2 427.1L1896.3 431.0L1895.3 434.9L1894.2 438.7L1893.0 442.5L1891.7 446.3L1890.3 450.0L1888.8 453.8L1887.2 457.4L1885.5 461.1L1883.7 464.7L1881.8 468.3L1879.9 471.8L1877.9 475.3L1875.7 478.8L1873.5 482.2L1871.3 485.6L1868.9 488.9L1866.5 492.1L1864.0 495.4L1861.5 498.5L1858.9 501.6L1856.2 504.7L1853.4 507.7L1850.6 510.6L1847.8 513.5L1844.9 516.3L1841.9 519.0L1838.9 521.7L1835.9 524.3L1832.8 526.8L1829.6 529.3L1826.4 531.6L1823.2 534.0L1819.9 536.2L1816.6 538.4L1813.3 540.5L1809.9 542.6L1806.5 544.6L1803.0 546.6L1799.6 548.5L1796.0 550.3L1792.5 552.1L1788.9 553.8L1785.3 555.5L1781.7 557.1L1778.0 558.7L1774.3 560.2L1770.6 561.7L1766.9 563.2L1763.1 564.6L1759.4 566.0L1755.6 567.3L1751.8 568.6L1747.9 569.8L1744.1 571.0L1740.2 572.2L1736.4 573.4L1732.5 574.5L1728.6 575.6L1724.7 576.7L1720.8 577.7L1716.9 578.7L1712.9 579.7L1709.0 580.7L1705.0 581.7L1701.1 582.6L1697.2 583.5L1693.2 584.4L1689.3 585.3L1685.3 586.2L1681.4 587.1L1677.4 588.0L1673.5 588.8L1669.6 589.7L1665.6 590.5L1661.7 591.3L1657.8 592.1L1653.9 592.9L1649.9 593.7L1646.0 594.5L1642.1 595.3L1638.2 596.0L1634.2 596.8L1630.3 597.5L1626.4 598.3L1622.5 599.0L1618.5 599.7L1614.6 600.4L1610.7 601.1L1606.7 601.7L1602.8 602.4L1598.9 603.0L1594.9 603.7L1591.0 604.3L1587.0 604.9L1583.1 605.5L1579.1 606.1L1575.1 606.7L1571.2 607.3L1567.2 607.8L1563.2 608.3L1559.2 608.9L1555.2 609.4L1551.2 609.9L1547.2 610.4L1543.2 610.9L1539.2 611.4L1535.2 611.9L1531.2 612.4L1527.2 612.9L1523.2 613.4L1519.2 613.9L1515.2 614.4L1511.2 614.9L1507.2 615.5L1503.2 616.0L1499.2 616.6L1495.2 617.1L1491.3 617.7L1487.3 618.3L1483.3 618.9L1479.4 619.6L1475.4 620.3L1471.5 621.0L1467.6 621.7L1463.7 622.5L1459.8 623.3L1455.9 624.2L1452.0 625.1L1448.2 626.1L1444.3 627.1L1440.5 628.3L1436.7 629.5L1433.0 630.8L1429.2 632.1L1425.5 633.6L1421.8 635.2L1418.2 636.9L1414.5 638.7L1411.0 640.6L1407.4 642.5L1403.9 644.6L1400.3 646.7L1396.9 648.9L1393.4 651.1L1390.0 653.3L1386.7 655.6L1383.3 657.9L1380.0 660.2L1376.7 662.6L1373.5 664.9L1370.3 667.3L1367.1 669.7L1364.0 672.1L1360.9 674.6L1357.8 677.1L1354.8 679.6L1351.8 682.2L1348.9 684.8L1346.0 687.4L1343.2 690.2L1340.3 692.9L1337.6 695.8L1334.8 698.6L1332.1 701.6L1329.5 704.6L1326.9 707.7L1324.3 710.8L1321.7 713.9L1319.2 717.1L1316.7 720.4L1314.2 723.7L1311.8 726.9L1309.3 730.2L1306.8 733.5L1304.4 736.8L1301.9 740.1L1299.4 743.4L1296.9 746.7L1294.4 749.9L1291.9 753.1L1289.3 756.3L1286.7 759.4L1284.1 762.4L1281.4 765.4L1278.7 768.3L1275.9 771.2L1273.1 774.0L1270.2 776.7L1267.2 779.3L1264.2 781.8L1261.1 784.2L1257.9 786.4L1254.7 788.6L1251.4 790.7L1248.0 792.6L1244.5 794.5L1241.0 796.2L1237.4 797.9L1233.8 799.5L1230.2 801.0L1226.4 802.4L1222.7 803.7L1218.9 804.9L1215.1 806.1L1211.2 807.1L1207.3 808.2L1203.4 809.1L1199.4 810.0L1195.5 810.8L1191.5 811.6L1187.5 812.3L1183.5 812.9L1179.5 813.5L1175.5 814.1L1171.4 814.6L1167.4 815.1L1163.4 815.5L1159.3 815.9L1155.2 816.3L1151.2 816.6L1147.1 816.9L1143.0 817.2L1139.0 817.4L1134.9 817.7L1130.8 817.9L1126.7 818.1L1122.6 818.2L1118.6 818.4L1114.5 818.6L1110.4 818.7L1106.3 818.9L1102.2 819.0L1098.2 819.2L1094.1 819.3L1090.0 819.5L1086.0 819.6L1081.9 819.8L1077.9 820.0L1073.8 820.2L1069.8 820.4L1065.7 820.7L1061.7 821.0L1057.7 821.3L1053.7 821.6L1049.7 822.0L1045.7 822.4L1041.8 822.8L1037.8 823.3L1033.9 823.8L1029.9 824.3L1026.0 825.0L1022.1 825.6L1018.3 826.3L1014.4 827.1L1010.5 827.9L1006.7 828.8L1002.9 829.7L999.1 830.7L995.3 831.8L991.6 833.0L987.9 834.2L984.1 835.5L980.5 836.9L976.8 838.3L973.2 839.8L969.5 841.5L965.9 843.1L962.4 844.9L958.8 846.7L955.3 848.6L951.8 850.6L948.3 852.6L944.8 854.7L941.3 856.8L937.9 858.9L934.5 861.1L931.1 863.4L927.7 865.6L924.3 868.0L920.9 870.3L917.6 872.7L914.3 875.0L910.9 877.4L907.6 879.8L904.3 882.3L901.0 884.7L897.8 887.1L894.5 889.6L891.2 892.0L888.0 894.4L884.7 896.8L881.5 899.2L878.3 901.6L875.0 903.9L871.8 906.3L868.6 908.6L865.4 910.8L862.2 913.0L859.0 915.3L855.7 917.4L852.5 919.6L849.3 921.7L846.0 923.8L842.7 925.9L839.4 927.9L836.1 929.9L832.7 931.9L829.3 933.9L825.9 935.9L822.4 937.8L818.9 939.7L815.4 941.7L811.8 943.5L808.1 945.4L804.4 947.3L800.7 949.2L796.9 951.0L793.0 952.8L789.1 954.5L785.1 956.1L781.2 957.6L777.2 958.9L773.3 959.9L769.4 960.6L765.6 961.1L761.8 961.1L758.1 960.8L754.5 960.1L751.0 958.9L747.7 957.3L744.6 955.2L741.5 952.6L738.6 949.8L735.7 946.8L732.8 943.7L729.8 940.8L726.6 938.2L723.3 935.8L719.9 933.7L716.3 931.9L712.7 930.1L709.0 928.5L705.3 927.0L701.6 925.5L697.9 924.0L694.2 922.6L690.4 921.2L686.7 919.9L682.9 918.6L679.1 917.4L675.3 916.2L671.5 915.1L667.7 914.0L663.9 912.9L660.0 911.9L656.2 910.9L652.3 910.0L648.4 909.1L644.5 908.3L640.6 907.4L636.7 906.7L632.8 905.9L628.9 905.2L625.0 904.5L621.1 903.9L617.1 903.3L613.2 902.7L609.2 902.2L605.2 901.7L601.3 901.2L597.3 900.7L593.3 900.3L589.3 899.9L585.3 899.6L581.3 899.2L577.3 898.9L573.3 898.7L569.3 898.4L565.2 898.2L561.2 898.0L557.2 897.8L553.1 897.6L549.1 897.5L545.1 897.4L541.0 897.3L537.0 897.2L532.9 897.1L528.9 897.1L524.8 897.0L520.8 897.0L516.7 897.0L512.6 897.1L508.6 897.1L504.5 897.1L500.5 897.2L496.4 897.3L492.4 897.4L488.3 897.5L484.2 897.6L480.2 897.7L476.1 897.8L472.1 898.0L468.0 898.1L464.0 898.2L459.9 898.4L455.9 898.6L451.8 898.7L447.8 898.9L443.8 899.1L439.7 899.2L435.7 899.4L431.7 899.6L427.7 899.8L423.7 900.0L419.6 900.1L415.6 900.3L411.6 900.5L407.6 900.7L403.6 900.9L399.6 901.1L395.6 901.3L391.6 901.6L387.7 901.8L383.7 902.0L379.7 902.3L375.7 902.5L371.7 902.7L367.7 903.0L363.8 903.3L359.8 903.5L355.8 903.8L351.8 904.1L347.9 904.4L343.9 904.7L339.9 905.0L335.9 905.3L332.0 905.6L328.0 905.9L324.0 906.3L320.1 906.6L316.1 907.0L312.1 907.3L308.2 907.7L304.2 908.1L300.2 908.5L296.3 908.9L292.3 909.4L288.3 909.8L284.4 910.2L280.4 910.7L276.4 911.2L272.4 911.6L268.5 912.1L264.5 912.6L260.5 913.2L256.5 913.7L252.6 914.2L248.6 914.8L244.6 915.4L240.6 916.0L236.6 916.6L232.6 917.2L228.6 917.8L224.6 918.5L220.6 919.1L216.6 919.8L212.6 920.5L208.6 921.2L204.6 922.0L200.6 922.7" stroke="#00b050"/>
<path d="M200.6 776.0L204.6 775.9L208.6 775.8L212.6 775.7L216.6 775.6L220.6 775.5L224.6 775.4L228.7 775.3L232.7 775.3L236.7 775.2L240.7 775.2L244.7 775.1L248.7 775.1L252.7 775.1L256.7 775.1L260.7 775.1L264.7 775.1L268.7 775.1L272.7 775.1L276.7 775.1L280.8 775.1L284.8 775.2L288.8 775.2L292.8 775.3L296.8 775.3L300.8 775.4L304.8 775.4L308.8 775.5L312.8 775.6L316.8 775.7L320.8 775.7L324.8 775.8L328.8 775.9L332.8 776.0L336.9 776.1L340.9 776.2L344.9 776.3L348.9 776.5L352.9 776.6L356.9 776.7L360.9 776.8L364.9 777.0L368.9 777.1L372.9 777.2L376.9 777.4L380.9 777.5L384.9 777.6L388.9 777.8L392.9 777.9L396.9 778.1L400.9 778.2L405.0 778.4L409.0 778.5L413.0 778.7L417.0 778.9L421.0 779.0L425.0 779.2L429.0 779.3L433.0 779.5L437.0 779.6L441.0 779.8L445.0 780.0L449.0 780.1L453.0 780.3L457.0 780.4L461.0 780.6L465.0 780.8L469.0 780.9L473.0 781.1L477.0 781.2L481.0 781.4L485.0 781.5L489.1 781.7L493.1 781.8L497.1 782.0L501.1 782.1L505.1 782.3L509.1 782.4L513.1 782.6L517.1 782.7L521.1 782.8L525.1 783.0L529.1 783.1L533.1 783.2L537.1 783.4L541.1 783.5L545.1 783.6L549.1 783.7L553.1 783.9L557.1 784.0L561.1 784.1L565.1 784.2L569.1 784.3L573.1 784.4L577.1 784.5L581.1 784.7L585.1 784.8L589.1 784.9L593.1 785.0L597.1 785.1L601.1 785.2L605.1 785.2L609.1 785.3L613.2 785.4L617.2 785.5L621.2 785.6L625.2 785.7L629.2 785.8L633.2 785.8L637.2 785.9L641.2 786.0L645.2 786.1L649.2 786.1L653.2 786.2L657.2 786.2L661.2 786.3L665.2 786.4L669.2 786.4L673.2 786.5L677.2 786.5L681.2 786.6L685.2 786.6L689.2 786.6L693.2 786.7L697.2 786.7L701.2 786.7L705.2 786.8L709.3 786.8L713.3 786.8L717.3 786.8L721.3 786.9L725.3 786.9L729.3 786.9L733.3 786.9L737.3 786.9L741.3 786.9L745.3 786.9L749.3 786.9L753.3 786.9L757.3 786.9L761.3 786.8L765.4 786.8L769.4 786.8L773.4 786.8L777.4 786.7L781.4 786.7L785.4 786.7L789.4 786.6L793.4 786.6L797.4 786.5L801.4 786.5L805.4 786.4L809.5 786.4L813.5 786.3L817.5 786.3L821.5 786.2L825.5 786.1L829.5 786.0L833.5 786.0L837.5 785.9L841.6 785.8L845.6 785.7L849.6 785.6L853.6 785.5L857.6 785.4L861.6 785.3L865.6 785.2L869.7 785.1L873.7 785.0L877.7 784.8L881.7 784.7L885.7 784.6L889.7 784.5L893.7 784.3L897.8 784.2L901.8 784.1L905.8 784.0L909.8 783.8L913.8 783.7L917.8 783.5L921.8 783.4L925.8 783.3L929.9 783.1L933.9 783.0L937.9 782.8L941.9 782.7L945.9 782.5L949.9 782.4L953.9 782.2L957.9 782.1L961.9 781.9L965.9 781.8L969.9 781.6L973.9 781.4L978.0 781.3L982.0 781.1L986.0 781.0L990.0 780.8L994.0 780.7L998.0 780.5L1002.0 780.3L1006.0 780.2L1010.0 780.0L1013.9 779.9L1017.9 779.7L1021.9 779.6L1025.9 779.4L1029.9 779.3L1033.9 779.1L1037.9 779.0L1041.9 778.8L1045.9 778.7L1049.9 778.5L1053.8 778.4L1057.8 778.2L1061.8 778.1L1065.8 778.0L1069.8 777.8L1073.7 777.7L1077.7 777.5L1081.7 777.4L1085.7 777.3L1089.6 777.2L1093.6 777.0L1097.6 776.9L1101.5 776.7L1105.5 776.5L1109.5 776.3L1113.5 776.1L1117.5 775.8L1121.4 775.5L1125.4 775.2L1129.4 774.8L1133.4 774.3L1137.4 773.8L1141.4 773.3L1145.4 772.6L1149.5 771.9L1153.5 771.2L1157.5 770.3L1161.6 769.4L1165.6 768.3L1169.5 767.2L1173.5 765.9L1177.3 764.4L1181.0 762.9L1184.7 761.1L1188.2 759.2L1191.5 757.1L1194.7 754.8L1197.7 752.3L1200.6 749.6L1203.3 746.8L1206.0 743.9L1208.4 740.8L1210.8 737.6L1213.1 734.4L1215.3 731.0L1217.4 727.6L1219.4 724.1L1221.3 720.6L1223.2 717.0L1225.0 713.4L1226.7 709.8L1228.4 706.2L1230.0 702.5L1231.5 698.8L1233.0 695.1L1234.5 691.4L1235.9 687.6L1237.3 683.9L1238.6 680.1L1239.9 676.3L1241.1 672.4L1242.3 668.6L1243.5 664.8L1244.7 660.9L1245.8 657.1L1246.9 653.2L1248.0 649.3L1249.1 645.5L1250.2 641.6L1251.2 637.7L1252.3 633.8L1253.3 630.0L1254.3 626.1L1255.3 622.2L1256.2 618.3L1257.2 614.4L1258.1 610.5L1259.1 606.6L1260.0 602.7L1260.9 598.8L1261.8 594.9L1262.7 591.0L1263.5 587.1L1264.4 583.2L1265.2 579.2L1266.1 575.3L1266.9 571.4L1267.7 567.5L1268.5 563.6L1269.3 559.6L1270.1 555.7L1270.9 551.8L1271.7 547.8L1272.5 543.9L1273.2 540.0L1274.0 536.1L1274.8 532.1L1275.5 528.2L1276.3 524.2L1277.0 520.3L1277.7 516.4L1278.5 512.4L1279.2 508.5L1279.9 504.6L1280.6 500.6L1281.4 496.7L1282.1 492.7L1282.8 488.8L1283.5 484.9L1284.2 480.9L1285.0 477.0L1285.7 473.0L1286.4 469.1L1287.1 465.2L1287.8 461.2L1288.6 457.3L1289.3 453.3L1290.0 449.4L1290.8 445.5L1291.5 441.5L1292.2 437.6L1293.0 433.7L1293.7 429.7L1294.5 425.8L1295.2 421.9L1296.0 417.9L1296.8 414.0L1297.6 410.1L1298.4 406.1L1299.1 402.2L1299.9 398.3L1300.8 394.4L1301.6 390.4L1302.4 386.5L1303.3 382.6L1304.1 378.7L1305.0 374.8L1305.8 370.9L1306.7 367.0L1307.6 363.1L1308.5 359.2L1309.4 355.3L1310.3 351.4L1311.3 347.5L1312.2 343.6L1313.1 339.7L1314.1 335.8L1315.1 331.9L1316.0 328.0L1317.0 324.2L1317.9 320.3L1318.9 316.4L1319.9 312.6L1320.8 308.7L1321.8 304.9L1322.8 301.0L1323.8 297.2L1324.7 293.3L1325.7 289.5L1326.6 285.7L1327.6 281.8L1328.6 278.0L1329.6 274.2L1330.7 270.3L1331.9 266.3L1333.2 262.3L1334.5 258.3L1336.1 254.1L1337.8 249.9L1339.6 245.7L1341.7 241.7L1343.9 237.8L1346.4 234.3L1349.1 231.3L1352.0 228.9L1355.0 227.1L1358.2 226.0L1361.5 225.8L1364.8 226.3L1368.0 227.6L1371.2 229.5L1374.3 231.9L1377.3 234.7L1380.0 237.8L1382.5 241.1L1384.8 244.5L1387.0 248.2L1389.1 251.9L1391.1 255.7L1393.0 259.6L1394.8 263.5L1396.7 267.3L1398.5 271.2L1400.4 275.0L1402.3 278.7L1404.2 282.4L1406.2 286.1L1408.2 289.7L1410.2 293.2L1412.2 296.8L1414.2 300.3L1416.3 303.7L1418.4 307.1L1420.5 310.5L1422.6 313.9L1424.8 317.2L1426.9 320.5L1429.2 323.8L1431.4 327.0L1433.6 330.2L1435.9 333.4L1438.2 336.6L1440.6 339.7L1442.9 342.9L1445.3 346.0L1447.7 349.1L1450.2 352.2L1452.6 355.2L1455.1 358.3L1457.7 361.3L1460.2 364.4L1462.8 367.4L1465.4 370.4L1468.0 373.5L1470.7 376.5L1473.4 379.5L1476.1 382.5L1478.9 385.5L1481.7 388.4L1484.5 391.4L1487.3 394.3L1490.2 397.2L1493.1 400.0L1496.1 402.9L1499.0 405.7L1502.0 408.4L1505.1 411.1L1508.1 413.8L1511.2 416.4L1514.4 419.0L1517.5 421.5L1520.7 423.9L1523.9 426.3L1527.2 428.6L1530.4 430.9L1533.8 433.1L1537.1 435.3L1540.5 437.4L1543.8 439.5L1547.3 441.5L1550.7 443.4L1554.2 445.4L1557.7 447.2L1561.2 449.0L1564.7 450.8L1568.3 452.5L1571.9 454.2L1575.5 455.9L1579.1 457.5L1582.8 459.0L1586.4 460.5L1590.1 462.0L1593.8 463.4L1597.5 464.8L1601.3 466.2L1605.0 467.5L1608.8 468.8L1612.6 470.1L1616.4 471.3L1620.2 472.5L1624.1 473.6L1627.9 474.8L1631.8 475.9L1635.6 476.9L1639.5 478.0L1643.4 479.0L1647.3 480.0L1651.2 480.9L1655.1 481.9L1659.1 482.8L1663.0 483.7L1666.9 484.6L1670.9 485.4L1674.9 486.3L1678.8 487.1L1682.8 487.9L1686.7 488.7L1690.7 489.4L1694.7 490.2L1698.7 490.9L1702.6 491.7L1706.6 492.4L1710.6 493.1L1714.6 493.8L1718.5 494.5L1722.5 495.2L1726.5 495.8L1730.4 496.5L1734.4 497.2L1738.4 497.8L1742.3 498.5L1746.3 499.1L1750.2 499.8L1754.2 500.4L1758.1 501.0L1762.1 501.6L1766.0 502.2L1770.0 502.8L1773.9 503.4L1777.9 503.9L1781.8 504.5L1785.8 505.0L1789.7 505.6L1793.7 506.1L1797.6 506.6L1801.6 507.0L1805.5 507.5L1809.5 508.0L1813.4 508.4L1817.4 508.8L1821.3 509.2L1825.3 509.6L1829.3 509.9L1833.2 510.3L1837.2 510.6L1841.2 510.9L1845.2 511.2L1849.1 511.4L1853.1 511.7L1857.1 511.9L1861.1 512.1L1865.1 512.2L1869.2 512.4L1873.2 512.5L1877.2 512.6L1881.2 512.6L1885.3 512.7L1889.3 512.7L1893.4 512.6L1897.4 512.6L1901.5 512.5L1899.2 515.9L1896.7 519.0L1894.0 522.0L1891.2 524.8L1888.2 527.4L1885.1 529.9L1881.8 532.2L1878.5 534.4L1875.1 536.5L1871.6 538.4L1868.0 540.3L1864.4 542.0L1860.7 543.7L1857.1 545.3L1853.4 546.8L1849.6 548.2L1845.9 549.6L1842.1 550.9L1838.3 552.2L1834.5 553.3L1830.7 554.5L1826.8 555.6L1823.0 556.6L1819.1 557.6L1815.2 558.5L1811.3 559.4L1807.4 560.3L1803.5 561.2L1799.5 562.0L1795.6 562.8L1791.7 563.6L1787.7 564.3L1783.8 565.1L1779.8 565.8L1775.9 566.6L1771.9 567.3L1768.0 568.0L1764.0 568.7L1760.0 569.4L1756.1 570.1L1752.1 570.8L1748.2 571.5L1744.2 572.2L1740.2 572.8L1736.3 573.5L1732.3 574.2L1728.3 574.8L1724.4 575.4L1720.4 576.0L1716.4 576.7L1712.4 577.3L1708.5 577.9L1704.5 578.4L1700.5 579.0L1696.5 579.6L1692.6 580.1L1688.6 580.7L1684.6 581.2L1680.6 581.7L1676.7 582.3L1672.7 582.8L1668.7 583.2L1664.7 583.7L1660.7 584.2L1656.7 584.7L1652.8 585.1L1648.8 585.5L1644.8 586.0L1640.8 586.4L1636.8 586.8L1632.8 587.2L1628.9 587.6L1624.9 587.9L1620.9 588.3L1616.9 588.6L1612.9 589.0L1608.9 589.3L1605.0 589.6L1601.0 589.9L1597.0 590.2L1593.0 590.4L1589.0 590.7L1585.0 590.9L1581.0 591.2L1577.1 591.4L1573.1 591.6L1569.1 591.8L1565.1 592.1L1561.1 592.3L1557.1 592.5L1553.1 592.7L1549.2 593.0L1545.2 593.2L1541.2 593.5L1537.2 593.8L1533.2 594.0L1529.2 594.3L1525.2 594.7L1521.2 595.0L1517.2 595.4L1513.3 595.7L1509.3 596.1L1505.3 596.6L1501.3 597.0L1497.3 597.5L1493.3 598.1L1489.3 598.6L1485.3 599.2L1481.3 599.9L1477.3 600.5L1473.3 601.3L1469.3 602.0L1465.3 602.8L1461.3 603.7L1457.4 604.6L1453.4 605.6L1449.5 606.6L1445.6 607.7L1441.7 608.8L1437.8 610.0L1434.0 611.3L1430.2 612.6L1426.4 614.0L1422.7 615.5L1419.0 617.0L1415.3 618.6L1411.8 620.3L1408.2 622.1L1404.7 623.9L1401.3 625.8L1397.9 627.9L1394.6 630.0L1391.3 632.1L1388.1 634.4L1385.0 636.7L1381.9 639.1L1378.8 641.5L1375.8 644.0L1372.8 646.6L1369.8 649.2L1366.9 651.9L1364.1 654.7L1361.2 657.4L1358.4 660.3L1355.6 663.1L1352.9 666.0L1350.1 669.0L1347.4 672.0L1344.7 675.0L1342.1 678.0L1339.4 681.1L1336.8 684.2L1334.2 687.3L1331.5 690.4L1328.9 693.5L1326.3 696.6L1323.7 699.8L1321.1 702.9L1318.5 706.1L1315.9 709.2L1313.3 712.4L1310.7 715.5L1308.1 718.6L1305.4 721.7L1302.8 724.8L1300.1 727.9L1297.4 731.0L1294.7 734.0L1292.0 737.0L1289.3 740.0L1286.5 742.9L1283.7 745.8L1280.9 748.6L1278.0 751.4L1275.1 754.1L1272.2 756.8L1269.2 759.4L1266.2 761.9L1263.1 764.4L1260.0 766.8L1256.9 769.1L1253.7 771.3L1250.4 773.4L1247.1 775.4L1243.7 777.3L1240.3 779.2L1236.8 780.9L1233.3 782.4L1229.7 783.9L1226.0 785.3L1222.2 786.5L1218.4 787.6L1214.5 788.6L1210.6 789.5L1206.6 790.3L1202.6 790.9L1198.6 791.6L1194.5 792.1L1190.4 792.6L1186.2 793.0L1182.1 793.3L1177.9 793.6L1173.8 793.9L1169.6 794.1L1165.5 794.3L1161.3 794.5L1157.2 794.6L1153.1 794.8L1149.1 794.9L1145.0 795.1L1141.0 795.2L1137.0 795.4L1133.0 795.5L1129.0 795.7L1125.1 795.8L1121.1 796.0L1117.2 796.1L1113.2 796.2L1109.3 796.4L1105.4 796.5L1101.4 796.6L1097.5 796.8L1093.6 796.9L1089.6 797.0L1085.7 797.2L1081.7 797.3L1077.8 797.4L1073.8 797.6L1069.8 797.7L1065.8 797.9L1061.8 798.0L1057.8 798.2L1053.8 798.3L1049.8 798.5L1045.7 798.7L1041.7 798.9L1037.7 799.2L1033.7 799.4L1029.6 799.7L1025.6 800.0L1021.6 800.3L1017.5 800.7L1013.5 801.0L1009.5 801.4L1005.5 801.9L1001.5 802.4L997.5 802.9L993.5 803.4L989.5 804.0L985.6 804.6L981.6 805.3L977.7 806.0L973.7 806.8L969.8 807.6L965.9 808.4L962.0 809.4L958.2 810.3L954.3 811.3L950.5 812.4L946.7 813.6L942.9 814.8L939.1 816.0L935.4 817.4L931.7 818.7L928.0 820.2L924.3 821.7L920.7 823.3L917.0 825.0L913.4 826.8L909.9 828.6L906.4 830.5L902.9 832.5L899.4 834.6L895.9 836.7L892.5 838.9L889.1 841.1L885.7 843.4L882.4 845.7L879.0 848.0L875.6 850.4L872.3 852.7L868.9 855.1L865.6 857.4L862.2 859.8L858.8 862.1L855.4 864.3L852.0 866.6L848.6 868.7L845.2 870.9L841.7 872.9L838.2 874.9L834.7 876.8L831.1 878.6L827.5 880.3L823.9 881.9L820.2 883.4L816.5 884.7L812.8 885.9L809.0 886.9L805.2 887.8L801.4 888.5L797.6 889.1L793.7 889.4L789.8 889.5L785.9 889.5L782.0 889.4L778.0 889.1L774.1 888.7L770.1 888.3L766.2 887.7L762.2 887.1L758.3 886.4L754.3 885.6L750.3 884.9L746.4 884.1L742.4 883.3L738.5 882.5L734.5 881.7L730.5 880.9L726.6 880.1L722.6 879.3L718.7 878.6L714.7 877.9L710.8 877.2L706.8 876.6L702.8 875.9L698.9 875.3L694.9 874.7L691.0 874.1L687.0 873.5L683.1 872.9L679.1 872.4L675.1 871.8L671.2 871.2L667.2 870.6L663.3 870.1L659.3 869.5L655.3 868.9L651.4 868.4L647.4 867.8L643.5 867.2L639.5 866.7L635.5 866.1L631.6 865.6L627.6 865.0L623.6 864.5L619.7 863.9L615.7 863.4L611.7 862.8L607.8 862.3L603.8 861.7L599.8 861.2L595.9 860.6L591.9 860.1L587.9 859.6L584.0 859.0L580.0 858.5L576.0 858.0L572.0 857.4L568.1 856.9L564.1 856.4L560.1 855.9L556.1 855.3L552.2 854.8L548.2 854.3L544.2 853.8L540.2 853.3L536.3 852.8L532.3 852.3L528.3 851.8L524.3 851.3L520.4 850.8L516.4 850.3L512.4 849.9L508.4 849.4L504.4 848.9L500.4 848.4L496.5 848.0L492.5 847.5L488.5 847.0L484.5 846.6L480.5 846.1L476.5 845.7L472.6 845.2L468.6 844.8L464.6 844.3L460.6 843.9L456.6 843.4L452.6 843.0L448.6 842.6L444.7 842.2L440.7 841.8L436.7 841.3L432.7 840.9L428.7 840.5L424.7 840.1L420.7 839.7L416.7 839.3L412.7 839.0L408.7 838.6L404.7 838.2L400.8 837.8L396.8 837.5L392.8 837.1L388.8 836.8L384.8 836.4L380.8 836.1L376.8 835.7L372.8 835.4L368.8 835.0L364.8 834.7L360.8 834.4L356.8 834.1L352.8 833.8L348.8 833.5L344.8 833.2L340.8 832.9L336.8 832.6L332.8 832.3L328.8 832.0L324.8 831.8L320.8 831.5L316.8 831.2L312.8 831.0L308.8 830.7L304.8 830.5L300.8 830.3L296.8 830.0L292.8 829.8L288.8 829.6L284.8 829.4L280.8 829.2L276.8 829.0L272.8 828.8L268.8 828.6L264.7 828.4L260.7 828.2L256.7 828.1L252.7 827.9L248.7 827.8L244.7 827.6L240.7 827.5L236.7 827.4L232.7 827.2L228.7 827.1L224.7 827.0L220.7 826.9L216.6 826.8L212.6 826.7L208.6 826.6L204.6 826.6L200.6 826.5" stroke="#ffc000"/>
<path d="M200.6 789.3L204.6 789.3L208.6 789.2L212.6 789.2L216.6 789.2L220.7 789.1L224.7 789.1L228.7 789.1L232.7 789.0L236.7 789.0L240.7 789.0L244.7 788.9L248.7 788.9L252.7 788.9L256.8 788.8L260.8 788.8L264.8 788.8L268.8 788.7L272.8 788.7L276.8 788.7L280.8 788.6L284.8 788.6L288.8 788.6L292.9 788.5L296.9 788.5L300.9 788.4L304.9 788.4L308.9 788.4L312.9 788.3L316.9 788.3L320.9 788.3L324.9 788.2L329.0 788.2L333.0 788.2L337.0 788.1L341.0 788.1L345.0 788.0L349.0 788.0L353.0 788.0L357.0 787.9L361.0 787.9L365.0 787.9L369.1 787.8L373.1 787.8L377.1 787.8L381.1 787.7L385.1 787.7L389.1 787.6L393.1 787.6L397.1 787.6L401.1 787.5L405.2 787.5L409.2 787.4L413.2 787.4L417.2 787.4L421.2 787.3L425.2 787.3L429.2 787.3L433.2 787.2L437.2 787.2L441.3 787.1L445.3 787.1L449.3 787.1L453.3 787.0L457.3 787.0L461.3 786.9L465.3 786.9L469.3 786.9L473.3 786.8L477.4 786.8L481.4 786.7L485.4 786.7L489.4 786.7L493.4 786.6L497.4 786.6L501.4 786.5L505.4 786.5L509.4 786.5L513.4 786.4L517.5 786.4L521.5 786.3L525.5 786.3L529.5 786.3L533.5 786.2L537.5 786.2L541.5 786.1L545.5 786.1L549.5 786.1L553.6 786.0L557.6 786.0L561.6 785.9L565.6 785.9L569.6 785.8L573.6 785.8L577.6 785.8L581.6 785.7L585.6 785.7L589.7 785.6L593.7 785.6L597.7 785.6L601.7 785.5L605.7 785.5L609.7 785.4L613.7 785.4L617.7 785.4L621.7 785.3L625.7 785.3L629.8 785.2L633.8 785.2L637.8 785.2L641.8 785.1L645.8 785.1L649.8 785.0L653.8 785.0L657.8 784.9L661.8 784.9L665.9 784.9L669.9 784.8L673.9 784.8L677.9 784.7L681.9 784.7L685.9 784.7L689.9 784.6L693.9 784.6L697.9 784.5L702.0 784.5L706.0 784.4L710.0 784.4L714.0 784.4L718.0 784.3L722.0 784.3L726.0 784.2L730.0 784.2L734.0 784.2L738.1 784.1L742.1 784.1L746.1 784.0L750.1 784.0L754.1 784.0L758.1 783.9L762.1 783.9L766.1 783.8L770.1 783.8L774.1 783.8L778.2 783.7L782.2 783.7L786.2 783.6L790.2 783.6L794.2 783.6L798.2 783.5L802.2 783.5L806.2 783.4L810.2 783.4L814.3 783.3L818.3 783.3L822.3 783.3L826.3 783.2L830.3 783.2L834.3 783.1L838.3 783.1L842.3 783.1L846.3 783.0L850.4 783.0L854.4 783.0L858.4 782.9L862.4 782.9L866.4 782.8L870.4 782.8L874.4 782.8L878.4 782.7L882.4 782.7L886.5 782.6L890.5 782.6L894.5 782.6L898.5 782.5L902.5 782.5L906.5 782.4L910.5 782.4L914.5 782.4L918.5 782.3L922.6 782.3L926.6 782.3L930.6 782.2L934.6 782.2L938.6 782.1L942.6 782.1L946.6 782.1L950.6 782.0L954.6 782.0L958.7 781.9L962.7 781.9L966.7 781.9L970.7 781.8L974.7 781.8L978.7 781.8L982.7 781.7L986.7 781.7L990.7 781.7L994.8 781.6L998.8 781.6L1002.8 781.5L1006.8 781.5L1010.8 781.5L1014.8 781.4L1018.8 781.4L1022.8 781.4L1026.8 781.3L1030.9 781.3L1034.9 781.2L1038.9 781.2L1042.9 781.1L1046.9 781.1L1050.9 781.0L1054.9 780.9L1058.9 780.9L1062.9 780.8L1067.0 780.7L1071.0 780.7L1075.0 780.6L1079.0 780.5L1083.0 780.4L1087.0 780.3L1091.0 780.2L1095.0 780.1L1099.0 780.0L1103.0 779.9L1107.0 779.8L1111.0 779.6L1115.0 779.5L1119.1 779.3L1123.1 779.2L1127.1 779.0L1131.1 778.9L1135.1 778.7L1139.1 778.5L1143.1 778.3L1147.1 778.1L1151.1 777.9L1155.1 777.7L1159.1 777.5L1163.1 777.2L1167.1 776.8L1171.1 776.2L1175.0 775.5L1179.0 774.6L1182.9 773.4L1186.7 772.1L1190.5 770.5L1194.1 768.7L1197.6 766.7L1201.0 764.5L1204.2 762.1L1207.2 759.5L1209.9 756.6L1212.5 753.6L1214.9 750.4L1217.2 747.1L1219.3 743.7L1221.3 740.1L1223.3 736.6L1225.2 733.0L1227.0 729.4L1228.8 725.8L1230.6 722.1L1232.3 718.5L1234.0 714.8L1235.7 711.2L1237.3 707.5L1238.9 703.8L1240.4 700.1L1241.9 696.4L1243.4 692.7L1244.9 688.9L1246.3 685.2L1247.7 681.4L1249.0 677.7L1250.3 673.9L1251.6 670.1L1252.9 666.3L1254.1 662.5L1255.4 658.7L1256.5 654.9L1257.7 651.1L1258.8 647.3L1260.0 643.4L1261.1 639.6L1262.1 635.7L1263.2 631.9L1264.2 628.0L1265.2 624.1L1266.2 620.3L1267.2 616.4L1268.2 612.5L1269.1 608.6L1270.0 604.7L1271.0 600.8L1271.9 596.9L1272.7 593.0L1273.6 589.1L1274.5 585.1L1275.3 581.2L1276.2 577.3L1277.0 573.4L1277.8 569.4L1278.7 565.5L1279.5 561.6L1280.3 557.6L1281.1 553.7L1281.9 549.7L1282.7 545.8L1283.5 541.8L1284.3 537.9L1285.1 534.0L1285.8 530.0L1286.6 526.1L1287.4 522.1L1288.2 518.2L1289.0 514.2L1289.7 510.3L1290.5 506.3L1291.3 502.4L1292.1 498.4L1292.8 494.5L1293.6 490.5L1294.4 486.6L1295.2 482.6L1295.9 478.7L1296.7 474.7L1297.5 470.8L1298.3 466.8L1299.0 462.9L1299.8 459.0L1300.6 455.0L1301.4 451.1L1302.2 447.1L1303.0 443.2L1303.8 439.3L1304.5 435.3L1305.3 431.4L1306.1 427.4L1306.9 423.5L1307.7 419.6L1308.5 415.7L1309.4 411.7L1310.2 407.8L1311.0 403.9L1311.8 400.0L1312.6 396.0L1313.5 392.1L1314.3 388.2L1315.2 384.3L1316.0 380.4L1316.9 376.5L1317.7 372.6L1318.6 368.7L1319.4 364.8L1320.3 360.9L1321.2 357.0L1322.1 353.1L1323.0 349.2L1323.9 345.3L1324.8 341.5L1325.7 337.6L1326.6 333.7L1327.6 329.8L1328.5 326.0L1329.5 322.1L1330.4 318.3L1331.4 314.4L1332.4 310.6L1333.3 306.7L1334.3 302.9L1335.3 299.0L1336.4 295.2L1337.4 291.4L1338.5 287.6L1339.6 283.8L1340.8 279.9L1342.0 276.1L1343.3 272.3L1344.6 268.5L1346.0 264.8L1347.5 261.0L1349.1 257.2L1350.8 253.4L1352.5 249.6L1354.4 245.9L1356.4 242.1L1358.5 238.4L1360.7 234.7L1363.2 231.3L1365.8 228.1L1368.8 225.4L1372.0 223.1L1375.5 221.5L1379.1 220.5L1382.9 220.4L1386.6 221.0L1390.3 222.3L1393.8 224.1L1397.2 226.3L1400.5 228.7L1403.5 231.3L1406.4 234.1L1409.1 237.0L1411.7 240.2L1414.2 243.4L1416.5 246.8L1418.8 250.3L1421.0 253.8L1423.0 257.4L1425.1 261.1L1427.1 264.8L1429.0 268.5L1431.0 272.1L1432.9 275.8L1434.8 279.4L1436.8 282.9L1438.7 286.5L1440.7 289.9L1442.7 293.4L1444.7 296.8L1446.8 300.2L1448.9 303.6L1451.1 306.9L1453.3 310.2L1455.5 313.5L1457.8 316.7L1460.1 320.0L1462.5 323.2L1464.9 326.3L1467.3 329.5L1469.8 332.6L1472.3 335.6L1474.9 338.7L1477.5 341.7L1480.2 344.7L1482.8 347.7L1485.6 350.6L1488.3 353.5L1491.1 356.3L1493.9 359.2L1496.8 362.0L1499.7 364.8L1502.6 367.5L1505.5 370.2L1508.5 372.9L1511.6 375.5L1514.6 378.1L1517.7 380.7L1520.8 383.2L1523.9 385.7L1527.1 388.2L1530.3 390.6L1533.5 393.0L1536.8 395.4L1540.0 397.7L1543.3 400.0L1546.6 402.3L1550.0 404.5L1553.4 406.7L1556.8 408.8L1560.2 410.9L1563.6 413.0L1567.1 415.0L1570.5 417.0L1574.0 419.0L1577.6 420.9L1581.1 422.8L1584.7 424.6L1588.2 426.4L1591.8 428.2L1595.4 429.9L1599.1 431.6L1602.7 433.3L1606.4 434.9L1610.1 436.5L1613.8 438.0L1617.5 439.5L1621.2 441.0L1625.0 442.4L1628.7 443.8L1632.5 445.1L1636.3 446.4L1640.1 447.7L1643.9 448.9L1647.7 450.1L1651.5 451.2L1655.4 452.3L1659.2 453.4L1663.1 454.4L1667.0 455.4L1670.9 456.4L1674.8 457.3L1678.7 458.3L1682.6 459.1L1686.5 460.0L1690.4 460.8L1694.4 461.6L1698.3 462.4L1702.2 463.2L1706.2 463.9L1710.1 464.6L1714.1 465.3L1718.1 466.0L1722.0 466.7L1726.0 467.3L1730.0 467.9L1733.9 468.6L1737.9 469.2L1741.9 469.8L1745.9 470.3L1749.8 470.9L1753.8 471.5L1757.8 472.1L1761.8 472.6L1765.7 473.1L1769.7 473.7L1773.7 474.2L1777.7 474.7L1781.6 475.2L1785.6 475.7L1789.6 476.2L1793.6 476.7L1797.5 477.1L1801.5 477.6L1805.5 478.0L1809.5 478.5L1813.5 478.9L1817.4 479.3L1821.4 479.7L1825.4 480.0L1829.4 480.4L1833.4 480.7L1837.4 481.1L1841.4 481.4L1845.4 481.7L1849.4 482.0L1853.4 482.3L1857.4 482.5L1861.4 482.8L1865.4 483.0L1869.4 483.2L1873.4 483.4L1877.4 483.6L1881.4 483.8L1885.4 483.9L1889.4 484.0L1893.5 484.1L1897.5 484.2L1901.5 484.3L1898.9 487.7L1896.2 490.7L1893.4 493.7L1890.6 496.6L1887.7 499.4L1884.7 502.1L1881.7 504.7L1878.6 507.2L1875.4 509.7L1872.3 512.0L1869.0 514.3L1865.7 516.5L1862.4 518.6L1859.0 520.6L1855.6 522.5L1852.1 524.4L1848.6 526.2L1845.0 528.0L1841.4 529.7L1837.8 531.3L1834.1 532.8L1830.4 534.3L1826.7 535.8L1823.0 537.1L1819.2 538.5L1815.4 539.8L1811.5 541.0L1807.7 542.2L1803.8 543.3L1799.9 544.5L1796.0 545.5L1792.1 546.6L1788.1 547.6L1784.2 548.5L1780.2 549.5L1776.3 550.4L1772.3 551.3L1768.3 552.1L1764.3 553.0L1760.3 553.8L1756.4 554.6L1752.4 555.4L1748.4 556.2L1744.4 557.0L1740.5 557.8L1736.5 558.5L1732.5 559.2L1728.6 560.0L1724.6 560.7L1720.7 561.4L1716.7 562.1L1712.7 562.7L1708.8 563.4L1704.8 564.1L1700.9 564.7L1696.9 565.3L1693.0 565.9L1689.0 566.5L1685.1 567.1L1681.1 567.7L1677.2 568.3L1673.2 568.8L1669.2 569.4L1665.3 569.9L1661.3 570.4L1657.4 570.9L1653.4 571.4L1649.5 571.9L1645.5 572.4L1641.5 572.9L1637.6 573.3L1633.6 573.8L1629.6 574.2L1625.6 574.6L1621.7 575.0L1617.7 575.4L1613.7 575.8L1609.7 576.2L1605.7 576.6L1601.7 576.9L1597.7 577.3L1593.7 577.6L1589.7 578.0L1585.7 578.3L1581.7 578.6L1577.7 578.9L1573.7 579.2L1569.6 579.5L1565.6 579.8L1561.6 580.1L1557.6 580.4L1553.5 580.7L1549.5 581.0L1545.5 581.3L1541.4 581.7L1537.4 582.0L1533.4 582.3L1529.4 582.7L1525.3 583.0L1521.3 583.4L1517.3 583.8L1513.3 584.2L1509.2 584.6L1505.2 585.1L1501.2 585.6L1497.2 586.1L1493.2 586.6L1489.2 587.2L1485.3 587.8L1481.3 588.5L1477.4 589.2L1473.5 590.1L1469.6 590.9L1465.7 591.9L1461.9 593.0L1458.1 594.1L1454.3 595.4L1450.6 596.8L1446.9 598.3L1443.2 599.9L1439.6 601.6L1436.1 603.4L1432.5 605.3L1429.0 607.2L1425.6 609.3L1422.2 611.4L1418.8 613.6L1415.5 615.8L1412.3 618.1L1409.0 620.4L1405.9 622.8L1402.7 625.2L1399.6 627.7L1396.5 630.2L1393.5 632.8L1390.5 635.4L1387.6 638.1L1384.6 640.8L1381.7 643.5L1378.9 646.3L1376.0 649.1L1373.2 651.9L1370.4 654.8L1367.7 657.7L1364.9 660.6L1362.2 663.6L1359.5 666.6L1356.8 669.6L1354.1 672.6L1351.5 675.7L1348.8 678.7L1346.2 681.8L1343.6 684.9L1341.0 688.0L1338.4 691.1L1335.8 694.3L1333.2 697.4L1330.6 700.6L1328.0 703.7L1325.4 706.9L1322.8 710.1L1320.2 713.2L1317.6 716.4L1315.0 719.6L1312.4 722.7L1309.8 725.9L1307.2 729.0L1304.5 732.2L1301.9 735.3L1299.2 738.3L1296.4 741.3L1293.7 744.3L1290.9 747.2L1288.1 750.1L1285.2 752.9L1282.3 755.6L1279.4 758.3L1276.4 760.9L1273.4 763.4L1270.2 765.8L1267.1 768.0L1263.8 770.2L1260.5 772.3L1257.2 774.2L1253.7 776.1L1250.2 777.8L1246.7 779.4L1243.1 781.0L1239.4 782.4L1235.7 783.7L1232.0 784.9L1228.2 786.1L1224.3 787.2L1220.5 788.2L1216.6 789.1L1212.6 790.0L1208.7 790.8L1204.7 791.5L1200.7 792.2L1196.7 792.8L1192.7 793.4L1188.7 793.9L1184.7 794.4L1180.7 794.8L1176.6 795.3L1172.6 795.7L1168.6 796.0L1164.5 796.3L1160.5 796.6L1156.5 796.9L1152.4 797.1L1148.4 797.3L1144.3 797.5L1140.3 797.7L1136.2 797.8L1132.2 797.9L1128.1 798.0L1124.1 798.1L1120.1 798.2L1116.0 798.3L1112.0 798.4L1107.9 798.4L1103.9 798.5L1099.8 798.5L1095.8 798.6L1091.7 798.6L1087.7 798.7L1083.6 798.7L1079.6 798.8L1075.6 798.8L1071.5 798.9L1067.5 799.0L1063.5 799.1L1059.5 799.2L1055.4 799.3L1051.4 799.5L1047.4 799.6L1043.4 799.8L1039.4 800.0L1035.4 800.2L1031.4 800.5L1027.4 800.7L1023.4 801.1L1019.4 801.4L1015.5 801.8L1011.5 802.2L1007.5 802.6L1003.6 803.1L999.6 803.6L995.7 804.2L991.8 804.8L987.9 805.4L983.9 806.1L980.0 806.8L976.1 807.6L972.3 808.4L968.4 809.3L964.5 810.2L960.7 811.2L956.8 812.2L953.0 813.3L949.2 814.4L945.4 815.6L941.6 816.8L937.9 818.1L934.1 819.5L930.4 820.9L926.7 822.4L923.0 823.9L919.3 825.5L915.6 827.2L911.9 828.9L908.3 830.7L904.7 832.5L901.1 834.5L897.5 836.4L894.0 838.5L890.4 840.6L886.9 842.7L883.3 844.8L879.8 847.0L876.3 849.2L872.8 851.5L869.3 853.7L865.8 855.9L862.3 858.1L858.8 860.3L855.3 862.5L851.8 864.7L848.3 866.8L844.8 868.9L841.3 871.0L837.8 873.0L834.2 874.9L830.7 876.8L827.1 878.6L823.6 880.4L820.0 882.0L816.4 883.6L812.7 885.0L809.1 886.4L805.4 887.7L801.7 888.8L798.0 889.8L794.2 890.7L790.5 891.5L786.7 892.1L782.8 892.7L779.0 893.1L775.1 893.4L771.2 893.6L767.3 893.7L763.4 893.8L759.5 893.7L755.5 893.6L751.5 893.3L747.6 893.1L743.6 892.7L739.6 892.3L735.6 891.8L731.5 891.3L727.5 890.7L723.5 890.1L719.4 889.4L715.4 888.8L711.4 888.0L707.3 887.3L703.3 886.5L699.2 885.8L695.2 885.0L691.2 884.2L687.2 883.4L683.1 882.6L679.1 881.8L675.1 881.0L671.1 880.2L667.1 879.4L663.1 878.7L659.1 877.9L655.2 877.1L651.2 876.3L647.2 875.5L643.2 874.7L639.3 873.9L635.3 873.2L631.3 872.4L627.4 871.6L623.4 870.8L619.5 870.1L615.5 869.3L611.6 868.5L607.6 867.8L603.7 867.0L599.7 866.3L595.8 865.6L591.9 864.8L587.9 864.1L584.0 863.4L580.0 862.6L576.1 861.9L572.2 861.2L568.2 860.5L564.3 859.8L560.4 859.1L556.5 858.5L552.5 857.8L548.6 857.1L544.7 856.5L540.7 855.8L536.8 855.2L532.9 854.6L528.9 853.9L525.0 853.3L521.1 852.7L517.1 852.1L513.2 851.6L509.3 851.0L505.3 850.4L501.4 849.9L497.4 849.4L493.5 848.8L489.5 848.3L485.6 847.8L481.6 847.3L477.7 846.8L473.7 846.4L469.8 845.9L465.8 845.5L461.8 845.1L457.8 844.7L453.9 844.3L449.9 843.9L445.9 843.5L441.9 843.2L437.9 842.8L433.9 842.5L429.9 842.2L425.9 841.9L421.9 841.6L417.9 841.4L413.9 841.1L409.9 840.9L405.8 840.6L401.8 840.4L397.8 840.2L393.8 840.0L389.7 839.8L385.7 839.6L381.6 839.5L377.6 839.3L373.6 839.2L369.5 839.0L365.5 838.9L361.4 838.8L357.4 838.7L353.3 838.6L349.3 838.4L345.3 838.3L341.2 838.3L337.2 838.2L333.1 838.1L329.1 838.0L325.0 837.9L321.0 837.9L316.9 837.8L312.9 837.8L308.8 837.7L304.8 837.6L300.7 837.6L296.7 837.5L292.7 837.5L288.6 837.4L284.6 837.4L280.6 837.3L276.5 837.3L272.5 837.3L268.5 837.2L264.5 837.2L260.4 837.1L256.4 837.0L252.4 837.0L248.4 836.9L244.4 836.9L240.4 836.8L236.4 836.7L232.4 836.7L228.4 836.6L224.4 836.5L220.4 836.4L216.5 836.3L212.5 836.2L208.5 836.1L204.6 836.0L200.6 835.9" stroke="#0000ff"/>
</g>
<line x1="1629.5" y1="800.2" x2="1719.5" y2="800.2" stroke="#ff0000" stroke-width="8.5" stroke-linecap="round"/>
<text transform="translate(1728.5 815.7) scale(1.0 1.04)" font-size="53">HB</text>
<line x1="1629.5" y1="872.9" x2="1719.5" y2="872.9" stroke="#ff00ff" stroke-width="8.5" stroke-linecap="round"/>
<text transform="translate(1728.5 888.4) scale(1.0 1.04)" font-size="53">2H</text>
<line x1="1629.5" y1="947.2" x2="1719.5" y2="947.2" stroke="#00b050" stroke-width="8.5" stroke-linecap="round"/>
<text transform="translate(1728.5 962.7) scale(1.0 1.04)" font-size="53">H</text>
<line x1="1629.5" y1="1019.6" x2="1719.5" y2="1019.6" stroke="#ffc000" stroke-width="8.5" stroke-linecap="round"/>
<text transform="translate(1728.5 1035.1) scale(1.0 1.04)" font-size="53">2B</text>
<line x1="1629.5" y1="1094.1" x2="1719.5" y2="1094.1" stroke="#0000ff" stroke-width="8.5" stroke-linecap="round"/>
<text transform="translate(1728.5 1109.6) scale(1.0 1.04)" font-size="53">B</text>
</svg></body></html>
